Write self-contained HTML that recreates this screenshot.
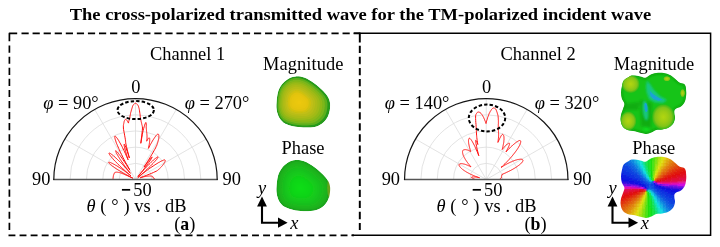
<!DOCTYPE html><html><head><meta charset="utf-8"><title>Figure</title><style>html,body{margin:0;padding:0;background:#fff}svg{display:block}text{font-family:"Liberation Serif",serif;font-size:18.4px;fill:#000}</style></head><body><svg width="720" height="247" viewBox="0 0 720 247"><defs><radialGradient id="hy"><stop offset="0" stop-color="#b2d610"/><stop offset="0.4" stop-color="#9ccc14"/><stop offset="0.7" stop-color="#80c418"/><stop offset="0.88" stop-color="#50bc18" stop-opacity="0.8"/><stop offset="1" stop-color="#20b818" stop-opacity="0"/></radialGradient><radialGradient id="hb"><stop offset="0" stop-color="#1498e0"/><stop offset="0.45" stop-color="#14b8b0"/><stop offset="1" stop-color="#14c060" stop-opacity="0"/></radialGradient><clipPath id="cb1"><path d="M295.50 76.40C298.21 76.18 301.12 76.46 304.25 77.60C307.38 78.74 311.12 81.06 314.25 83.25C317.38 85.44 320.71 88.46 323.00 90.75C325.29 93.04 326.82 94.88 328.00 97.00C329.18 99.12 329.89 100.88 330.10 103.50C330.31 106.12 330.02 109.96 329.25 112.75C328.48 115.54 327.38 118.06 325.50 120.25C323.62 122.44 320.92 124.69 318.00 125.90C315.08 127.11 311.75 127.36 308.00 127.50C304.25 127.64 299.35 127.43 295.50 126.75C291.65 126.07 287.61 124.90 284.90 123.40C282.19 121.90 280.61 119.94 279.25 117.75C277.89 115.56 277.21 112.72 276.75 110.25C276.29 107.78 276.29 105.94 276.50 102.90C276.71 99.86 277.12 95.07 278.00 92.00C278.88 88.93 280.08 86.68 281.75 84.50C283.42 82.32 285.71 80.25 288.00 78.90C290.29 77.55 292.79 76.62 295.50 76.40Z"/></clipPath><clipPath id="cb1p"><path d="M295.50 76.40C298.21 76.18 301.12 76.46 304.25 77.60C307.38 78.74 311.12 81.06 314.25 83.25C317.38 85.44 320.71 88.46 323.00 90.75C325.29 93.04 326.82 94.88 328.00 97.00C329.18 99.12 329.89 100.88 330.10 103.50C330.31 106.12 330.02 109.96 329.25 112.75C328.48 115.54 327.38 118.06 325.50 120.25C323.62 122.44 320.92 124.69 318.00 125.90C315.08 127.11 311.75 127.36 308.00 127.50C304.25 127.64 299.35 127.43 295.50 126.75C291.65 126.07 287.61 124.90 284.90 123.40C282.19 121.90 280.61 119.94 279.25 117.75C277.89 115.56 277.21 112.72 276.75 110.25C276.29 107.78 276.29 105.94 276.50 102.90C276.71 99.86 277.12 95.07 278.00 92.00C278.88 88.93 280.08 86.68 281.75 84.50C283.42 82.32 285.71 80.25 288.00 78.90C290.29 77.55 292.79 76.62 295.50 76.40Z" transform="translate(0,83.7)"/></clipPath><clipPath id="cb2p"><path d="M633.10 75.60C634.98 75.53 637.92 76.14 640.00 76.50C642.08 76.86 643.93 78.00 645.60 77.75C647.27 77.50 648.23 75.78 650.00 75.00C651.77 74.22 653.96 73.42 656.25 73.10C658.54 72.78 661.46 72.78 663.75 73.10C666.04 73.42 668.12 74.06 670.00 75.00C671.88 75.94 673.43 77.50 675.00 78.75C676.57 80.00 677.94 81.67 679.40 82.50C680.86 83.33 682.72 83.12 683.75 83.75C684.78 84.38 685.19 85.00 685.60 86.25C686.01 87.50 686.10 89.79 686.20 91.25C686.30 92.71 686.40 93.33 686.20 95.00C686.00 96.67 685.83 99.38 685.00 101.25C684.17 103.12 682.92 104.89 681.25 106.25C679.58 107.61 676.14 108.15 675.00 109.40C673.86 110.65 674.40 112.32 674.40 113.75C674.40 115.18 675.22 116.33 675.00 118.00C674.78 119.67 674.14 122.17 673.10 123.75C672.06 125.33 670.52 126.56 668.75 127.50C666.98 128.44 664.58 128.98 662.50 129.40C660.42 129.82 658.12 129.48 656.25 130.00C654.38 130.52 652.92 131.83 651.25 132.50C649.58 133.17 647.92 133.90 646.25 134.00C644.58 134.10 643.12 133.56 641.25 133.10C639.38 132.64 637.29 131.77 635.00 131.25C632.71 130.73 629.58 130.83 627.50 130.00C625.42 129.17 623.65 127.92 622.50 126.25C621.35 124.58 620.81 122.08 620.60 120.00C620.39 117.92 620.83 115.62 621.25 113.75C621.67 111.88 622.58 110.42 623.10 108.75C623.62 107.08 624.60 105.42 624.40 103.75C624.20 102.08 622.47 100.62 621.90 98.75C621.33 96.88 621.00 94.58 621.00 92.50C621.00 90.42 621.44 88.23 621.90 86.25C622.36 84.27 622.61 82.16 623.75 80.60C624.89 79.04 627.19 77.73 628.75 76.90C630.31 76.07 631.23 75.67 633.10 75.60Z" transform="translate(0,84.0)"/></clipPath><radialGradient id="hg"><stop offset="0" stop-color="#10dc20"/><stop offset="1" stop-color="#10dc20" stop-opacity="0"/></radialGradient><filter id="bl2" x="-20%" y="-20%" width="140%" height="140%"><feGaussianBlur stdDeviation="1.2"/></filter><filter id="bl3" x="-20%" y="-20%" width="140%" height="140%"><feGaussianBlur stdDeviation="0.7"/></filter><clipPath id="cb2"><path d="M633.10 75.60C634.98 75.53 637.92 76.14 640.00 76.50C642.08 76.86 643.93 78.00 645.60 77.75C647.27 77.50 648.23 75.78 650.00 75.00C651.77 74.22 653.96 73.42 656.25 73.10C658.54 72.78 661.46 72.78 663.75 73.10C666.04 73.42 668.12 74.06 670.00 75.00C671.88 75.94 673.43 77.50 675.00 78.75C676.57 80.00 677.94 81.67 679.40 82.50C680.86 83.33 682.72 83.12 683.75 83.75C684.78 84.38 685.19 85.00 685.60 86.25C686.01 87.50 686.10 89.79 686.20 91.25C686.30 92.71 686.40 93.33 686.20 95.00C686.00 96.67 685.83 99.38 685.00 101.25C684.17 103.12 682.92 104.89 681.25 106.25C679.58 107.61 676.14 108.15 675.00 109.40C673.86 110.65 674.40 112.32 674.40 113.75C674.40 115.18 675.22 116.33 675.00 118.00C674.78 119.67 674.14 122.17 673.10 123.75C672.06 125.33 670.52 126.56 668.75 127.50C666.98 128.44 664.58 128.98 662.50 129.40C660.42 129.82 658.12 129.48 656.25 130.00C654.38 130.52 652.92 131.83 651.25 132.50C649.58 133.17 647.92 133.90 646.25 134.00C644.58 134.10 643.12 133.56 641.25 133.10C639.38 132.64 637.29 131.77 635.00 131.25C632.71 130.73 629.58 130.83 627.50 130.00C625.42 129.17 623.65 127.92 622.50 126.25C621.35 124.58 620.81 122.08 620.60 120.00C620.39 117.92 620.83 115.62 621.25 113.75C621.67 111.88 622.58 110.42 623.10 108.75C623.62 107.08 624.60 105.42 624.40 103.75C624.20 102.08 622.47 100.62 621.90 98.75C621.33 96.88 621.00 94.58 621.00 92.50C621.00 90.42 621.44 88.23 621.90 86.25C622.36 84.27 622.61 82.16 623.75 80.60C624.89 79.04 627.19 77.73 628.75 76.90C630.31 76.07 631.23 75.67 633.10 75.60Z"/></clipPath><filter id="bl" x="-20%" y="-20%" width="140%" height="140%"><feGaussianBlur stdDeviation="0.6"/></filter></defs><rect width="720" height="247" fill="#fff"/><text transform="translate(69.7 19.8) scale(1.129 1)" font-weight="bold" style="font-size:16.4px">The cross-polarized transmitted wave for the TM-polarized incident wave</text><g fill="none" stroke="#000" stroke-width="1.7"><path d="M353.8 33.3H710.6V235.3H351.6" stroke-width="1.5"/><path d="M9.4 41.3V33.4H17.2" stroke-linejoin="round"/><path d="M21.5 33.4H359.8" stroke-dasharray="7.2 3.87"/><path d="M9.4 45.6V230" stroke-dasharray="7.2 3.87"/><path d="M8.5 235.4H354" stroke-dasharray="6.9 4.17"/><path d="M359.8 32.6V42.5" stroke-width="1.95"/><path d="M359.8 45.8V230.1" stroke-dasharray="7.3 3.77" stroke-width="1.95"/></g><g fill="none" stroke="#dadada" stroke-width="0.75"><path d="M119.16 179.5A16.34 16.18 0 0 1 151.84 179.5"/><path d="M102.82 179.5A32.68 32.36 0 0 1 168.18 179.5"/><path d="M86.48 179.5A49.02 48.54 0 0 1 184.52 179.5"/><path d="M70.14 179.5A65.36 64.72 0 0 1 200.86 179.5"/><path d="M135.5 179.5L64.75 139.05"/><path d="M135.5 179.5L94.65 109.44"/><path d="M135.5 179.5L135.50 98.60"/><path d="M135.5 179.5L176.35 109.44"/><path d="M135.5 179.5L206.25 139.05"/></g><path d="M113.0 179.5L113.0 179.4L113.0 179.3L113.0 179.3L113.0 179.2L113.0 179.1L113.0 179.0L113.0 179.0L113.0 178.9L113.0 178.8L113.0 178.7L113.0 178.6L113.0 178.6L113.1 178.5L113.1 178.4L113.1 178.3L113.1 178.2L113.1 178.2L113.1 178.1L113.1 178.0L113.1 177.9L113.1 177.9L113.1 177.8L113.1 177.7L113.1 177.6L113.1 177.5L113.2 177.5L113.2 177.4L113.2 177.3L113.2 177.2L113.2 177.2L113.2 177.1L113.2 177.0L113.2 176.9L113.2 176.8L113.3 176.8L113.3 176.7L113.3 176.6L113.3 176.5L113.3 176.5L113.3 176.4L113.3 176.3L113.3 176.2L113.3 176.1L113.4 176.1L113.4 176.0L113.4 175.9L113.4 175.8L113.4 175.8L113.4 175.7L113.4 175.6L113.5 175.5L113.5 175.5L113.5 175.4L113.5 175.3L113.5 175.2L113.5 175.2L113.6 175.1L113.6 175.0L113.6 174.9L113.6 174.9L113.7 174.8L113.7 174.7L113.7 174.6L113.7 174.6L113.8 174.5L113.8 174.4L113.8 174.3L113.8 174.3L113.9 174.2L113.9 174.1L113.9 174.0L114.0 174.0L114.0 173.9L114.0 173.8L114.1 173.8L114.1 173.7L114.2 173.6L114.2 173.6L114.2 173.5L114.3 173.4L114.3 173.3L114.4 173.3L114.4 173.2L114.5 173.1L114.5 173.1L114.5 173.0L114.6 172.9L114.6 172.9L114.7 172.8L114.7 172.8L114.8 172.7L114.8 172.6L114.9 172.6L114.9 172.5L115.0 172.4L115.0 172.4L115.1 172.3L115.2 172.3L115.3 172.2L115.5 172.2L115.6 172.2L115.8 172.2L116.0 172.1L116.2 172.1L116.4 172.1L116.6 172.2L116.9 172.2L117.1 172.2L117.4 172.2L117.7 172.3L117.9 172.3L118.3 172.4L118.6 172.4L118.9 172.5L119.2 172.6L119.6 172.6L119.9 172.7L120.3 172.8L120.9 173.0L121.6 173.3L122.4 173.6L123.3 173.9L124.4 174.4L125.5 174.9L126.8 175.4L128.2 176.0L129.6 176.7L131.2 177.4L132.8 178.2L131.6 177.6L130.3 176.9L129.1 176.3L127.9 175.7L126.8 175.0L125.6 174.4L124.5 173.8L123.4 173.2L122.3 172.5L121.3 171.9L120.3 171.3L119.3 170.7L118.3 170.1L117.4 169.5L116.6 169.0L115.7 168.4L114.9 167.9L114.2 167.4L113.5 166.8L112.8 166.4L112.2 165.9L111.6 165.4L111.1 165.0L110.6 164.6L110.2 164.2L109.8 163.9L109.5 163.6L109.2 163.3L109.0 163.0L108.8 162.8L108.7 162.6L108.7 162.4L108.7 162.3L108.8 162.2L109.0 162.2L109.2 162.2L109.5 162.3L109.8 162.3L110.2 162.5L110.6 162.6L111.1 162.8L111.6 163.1L112.2 163.3L112.8 163.6L113.4 164.0L114.1 164.3L114.8 164.7L115.6 165.2L116.4 165.6L117.2 166.1L118.1 166.7L118.9 167.2L119.8 167.8L120.8 168.4L121.7 169.0L122.7 169.7L123.7 170.4L124.7 171.1L125.7 171.8L126.7 172.6L127.7 173.3L128.7 174.1L129.8 174.9L130.8 175.7L129.6 174.7L128.3 173.6L127.1 172.5L125.9 171.5L124.7 170.4L123.5 169.4L122.4 168.3L121.3 167.3L120.2 166.3L119.2 165.3L118.2 164.4L117.3 163.4L116.4 162.5L115.5 161.6L114.7 160.8L113.9 160.0L113.2 159.2L112.6 158.4L111.9 157.7L111.4 157.0L110.9 156.4L110.4 155.8L110.0 155.2L109.7 154.8L109.4 154.3L109.2 154.0L109.1 153.6L109.0 153.4L109.0 153.2L109.1 153.1L109.2 153.0L109.4 153.0L109.7 153.1L110.0 153.3L110.5 153.6L110.9 153.9L111.5 154.3L112.1 154.7L112.7 155.2L113.5 155.8L114.2 156.5L115.0 157.2L115.8 157.9L116.7 158.8L117.6 159.6L118.6 160.6L119.6 161.5L120.6 162.5L121.6 163.6L122.7 164.7L123.7 165.8L124.8 167.0L125.9 168.2L127.0 169.5L128.2 170.7L129.3 172.0L130.4 173.3L129.3 172.0L128.3 170.6L127.3 169.3L126.3 168.0L125.3 166.7L124.4 165.4L123.5 164.2L122.7 163.0L121.8 161.8L121.1 160.7L120.3 159.6L119.6 158.5L119.0 157.5L118.4 156.6L117.9 155.7L117.4 154.8L117.0 154.1L116.6 153.4L116.3 152.7L116.0 152.2L115.8 151.7L115.7 151.3L115.6 151.0L115.6 150.8L115.7 150.7L115.8 150.7L116.1 150.9L116.5 151.3L117.1 151.8L117.7 152.5L118.4 153.4L119.1 154.4L120.0 155.5L120.9 156.8L121.9 158.1L122.9 159.6L124.0 161.2L125.1 162.8L126.3 164.5L127.5 166.3L128.6 168.2L129.8 170.1L128.8 168.2L127.8 166.4L126.8 164.6L125.8 162.9L124.9 161.1L124.0 159.4L123.1 157.7L122.3 156.0L121.5 154.4L120.7 152.8L120.0 151.3L119.3 149.8L118.7 148.4L118.1 147.0L117.5 145.7L117.0 144.4L116.5 143.3L116.1 142.2L115.8 141.1L115.5 140.2L115.2 139.3L115.0 138.6L114.9 137.9L114.8 137.3L114.7 136.9L114.7 136.5L114.8 136.3L114.9 136.1L115.1 136.1L115.3 136.2L115.6 136.4L115.9 136.8L116.3 137.2L116.7 137.7L117.2 138.3L117.7 139.0L118.2 139.9L118.8 140.7L119.3 141.7L119.9 142.8L120.6 143.9L121.2 145.1L121.9 146.3L122.5 147.6L123.2 149.0L123.9 150.4L124.6 151.9L125.3 153.4L126.0 155.0L126.7 156.6L127.4 158.2L128.1 159.8L127.6 158.1L127.0 156.4L126.5 154.7L126.1 153.1L125.6 151.6L125.3 150.2L124.9 148.9L124.6 147.8L124.4 146.7L124.2 145.8L124.1 145.1L124.1 144.6L124.1 144.2L124.2 144.1L124.4 144.3L124.7 144.9L125.2 145.9L125.8 147.3L126.4 149.0L127.1 151.0L127.8 153.2L128.6 155.6L129.4 158.0L127.7 151.5L126.5 146.7L125.9 144.0L125.7 142.6L125.6 141.8L125.6 140.9L125.4 139.8L125.1 137.9L124.6 135.2L124.1 132.3L123.6 129.7L123.4 128.0L123.4 127.0L123.4 126.1L123.4 125.4L123.5 124.8L123.6 124.3L123.7 123.8L123.8 123.3L123.9 122.8L124.0 122.3L124.1 121.9L124.2 121.4L124.4 121.0L124.5 120.6L124.7 120.3L124.8 120.0L125.0 119.7L125.2 119.5L125.4 119.4L125.6 119.3L125.8 119.3L126.0 119.4L126.3 119.6L126.6 119.9L126.8 120.2L127.1 120.6L127.4 121.0L127.6 121.5L127.9 122.0L128.2 122.6L128.5 123.1L128.6 122.2L128.7 121.5L128.9 120.9L129.1 120.3L129.3 119.8L129.4 119.2L129.6 118.5L129.8 117.7L129.9 116.9L130.1 116.0L130.2 115.2L130.4 114.3L130.5 113.5L130.7 112.6L131.0 111.7L131.2 110.9L131.4 110.1L131.7 109.3L131.9 108.5L132.2 107.7L132.4 106.8L132.7 106.1L133.0 105.4L133.3 104.9L133.6 104.6L133.8 104.3L134.1 104.1L134.4 103.8L134.7 103.6L134.9 103.4L135.2 103.3L135.5 103.3L135.8 103.3L136.1 103.4L136.3 103.6L136.6 103.8L136.9 104.1L137.2 104.3L137.4 104.6L137.7 104.9L138.0 105.4L138.3 106.0L138.6 106.7L138.8 107.6L139.1 108.5L139.3 109.5L139.5 110.8L139.7 112.1L139.9 113.4L140.1 114.8L140.2 116.2L140.4 117.4L140.5 118.5L140.7 119.3L140.8 120.0L141.0 120.6L141.1 121.3L141.3 121.9L141.4 122.4L141.5 123.0L141.7 123.6L141.8 124.2L141.9 124.8L142.1 125.3L142.2 125.8L142.3 126.3L142.4 127.0L142.5 128.0L142.3 130.6L141.7 135.9L140.8 143.3L142.3 134.7L143.2 130.1L143.7 128.4L144.2 126.7L144.6 125.3L145.0 124.1L145.4 123.2L145.7 122.6L146.0 122.5L146.1 122.7L146.2 123.3L146.3 124.2L146.3 125.2L146.2 126.2L146.2 127.2L146.3 128.0L146.3 128.7L146.4 129.3L146.4 129.9L146.5 130.5L146.5 131.0L146.6 131.5L146.7 132.0L146.7 132.5L146.8 133.0L146.8 133.5L146.9 133.9L146.9 134.4L147.0 135.0L147.0 135.5L147.0 136.1L147.0 136.7L147.0 137.3L147.0 138.0L147.0 138.7L146.9 139.5L146.8 140.3L146.7 141.2L147.0 140.6L147.4 140.0L147.7 139.4L148.0 138.9L148.3 138.5L148.5 138.2L148.8 137.9L149.0 137.8L149.1 137.8L149.3 137.9L149.4 138.0L149.5 138.2L149.6 138.4L149.7 138.7L149.7 139.1L149.7 139.5L149.7 139.9L149.7 140.4L149.7 140.9L149.6 141.5L149.6 142.1L149.5 142.7L149.4 143.3L149.3 144.0L149.2 144.7L149.0 145.4L148.9 146.1L148.7 146.9L148.6 147.6L148.4 148.4L149.1 147.1L149.7 145.8L150.4 144.6L151.0 143.5L151.7 142.3L152.3 141.2L152.9 140.2L153.5 139.3L154.1 138.4L154.7 137.5L155.2 136.8L155.7 136.1L156.2 135.5L156.6 135.0L157.0 134.6L157.3 134.3L157.6 134.1L157.9 134.0L158.1 134.0L158.2 134.1L158.4 134.2L158.5 134.4L158.6 134.6L158.7 134.8L158.7 135.0L158.8 135.3L158.8 135.6L158.9 135.9L158.9 136.3L158.9 136.7L158.8 137.1L158.8 137.5L158.7 137.9L158.7 138.4L158.6 138.8L158.5 139.3L158.4 139.8L158.3 140.4L158.1 140.9L158.0 141.5L157.8 142.0L157.7 142.6L157.5 143.2L157.3 143.8L157.1 144.4L156.9 145.0L156.6 145.8L156.1 146.7L155.6 147.9L154.8 149.3L153.9 150.9L152.9 152.7L151.7 154.7L150.5 156.9L149.0 159.2L147.5 161.7L145.8 164.3L144.0 167.1L145.1 165.6L146.1 164.2L147.2 162.8L148.1 161.5L149.0 160.4L149.9 159.4L150.6 158.5L151.2 157.8L151.7 157.3L152.0 157.1L152.2 157.0L152.1 157.2L152.0 157.6L151.6 158.2L151.1 159.0L150.5 160.0L149.7 161.1L148.8 162.4L147.8 163.8L146.6 165.4L145.4 167.0L144.1 168.8L142.7 170.6L141.2 172.5L139.6 174.4L138.0 176.4L139.1 175.2L140.2 173.9L141.2 172.7L142.3 171.5L143.3 170.4L144.3 169.2L145.4 168.1L146.3 167.1L147.3 166.1L148.3 165.1L149.2 164.2L150.1 163.3L150.9 162.4L151.8 161.6L152.6 160.9L153.3 160.2L154.0 159.6L154.7 159.0L155.3 158.5L155.9 158.1L156.4 157.7L156.8 157.4L157.2 157.1L157.6 157.0L157.8 156.9L158.0 156.8L158.1 156.9L158.2 157.0L158.1 157.2L158.0 157.5L157.7 157.9L157.4 158.3L157.0 158.9L156.6 159.5L156.0 160.1L155.4 160.8L154.7 161.6L153.9 162.4L153.1 163.3L152.2 164.2L151.3 165.2L150.3 166.2L149.2 167.2L148.1 168.3L147.0 169.4L145.8 170.5L144.5 171.7L143.2 172.8L141.9 174.0L140.6 175.2L139.2 176.4L137.8 177.6L139.0 176.5L140.3 175.5L141.5 174.6L142.7 173.6L144.0 172.6L145.2 171.7L146.4 170.8L147.5 170.0L148.7 169.1L149.8 168.3L150.9 167.5L152.0 166.8L153.1 166.1L154.1 165.4L155.1 164.7L156.1 164.1L157.0 163.6L157.9 163.0L158.7 162.5L159.6 162.1L160.3 161.6L161.0 161.3L161.7 160.9L162.3 160.6L162.9 160.4L163.4 160.2L163.8 160.0L164.2 159.9L164.5 159.9L164.7 159.8L164.9 159.9L165.0 160.0L165.1 160.1L165.1 160.2L165.2 160.3L165.2 160.4L165.2 160.6L165.2 160.7L165.2 160.9L165.2 161.0L165.1 161.2L165.1 161.4L165.0 161.6L165.0 161.7L164.9 161.9L164.8 162.1L164.7 162.3L164.6 162.5L164.5 162.7L164.4 162.9L164.3 163.1L164.1 163.3L164.0 163.5L163.8 163.8L163.7 164.0L163.5 164.2L163.4 164.4L163.2 164.6L163.0 164.8L162.8 165.1L162.7 165.3L162.5 165.5L162.3 165.7L162.1 165.9L161.9 166.1L161.7 166.4L161.5 166.6L161.3 166.8L161.1 167.0L160.9 167.2L160.7 167.4L160.5 167.6L160.3 167.8L160.1 168.0L160.0 168.2L159.8 168.4L159.6 168.6L159.4 168.8L159.2 168.9L159.1 169.1L158.9 169.3L158.7 169.4L158.6 169.6L158.4 169.8L158.1 170.0L157.9 170.2L157.6 170.4L157.2 170.6L156.8 170.9L156.1 171.3L154.9 171.8L153.4 172.5L151.4 173.4L149.1 174.3L146.4 175.4L143.4 176.5L140.2 177.8L140.5 177.7L140.9 177.6L141.2 177.5L141.5 177.4L141.9 177.3L142.2 177.2L142.6 177.1L142.9 177.0L143.2 176.9L143.5 176.9L143.9 176.8L144.2 176.7L144.5 176.6L144.8 176.6L145.1 176.5L145.4 176.5L145.7 176.4L146.0 176.4L146.3 176.3L146.6 176.3L146.9 176.2L147.2 176.2L147.5 176.2L147.8 176.1L148.0 176.1L148.3 176.1L148.6 176.1L148.8 176.0L149.1 176.0L149.3 176.0L149.5 176.0L149.8 176.0L150.0 176.0L150.2 176.0L150.4 176.0L150.6 176.0L150.8 176.0L151.0 176.0L151.2 176.1L151.3 176.1L151.5 176.1L151.6 176.1L151.8 176.2L151.9 176.2L152.0 176.2L152.2 176.3L152.3 176.3L152.4 176.3L152.5 176.4L152.5 176.4L152.6 176.5L152.7 176.5L152.7 176.6L152.7 176.6L152.8 176.7L152.8 176.8L152.8 176.8L152.8 176.9L152.8 176.9L152.9 177.0L152.9 177.1L152.9 177.1L152.9 177.2L153.0 177.2L153.0 177.3L153.0 177.3L153.1 177.4L153.1 177.5L153.2 177.5L153.2 177.6L153.3 177.6L153.3 177.7L153.4 177.7L153.4 177.8L153.5 177.9L153.5 177.9L153.6 178.0L153.7 178.0L153.7 178.1L153.8 178.2L153.8 178.2L153.9 178.3L154.0 178.3L154.0 178.4L154.1 178.5L154.2 178.5L154.2 178.6L154.3 178.6L154.3 178.7L154.4 178.8L154.5 178.8L154.5 178.9L154.6 179.0L154.6 179.0L154.7 179.1L154.8 179.2L154.8 179.2L154.9 179.3L154.9 179.4L155.0 179.4L155.0 179.5" fill="none" stroke="#ff1010" stroke-width="1" stroke-linejoin="round"/><path d="M53.199999999999996 179.5H217.79999999999998" fill="none" stroke="#555" stroke-width="1.7"/><path d="M53.8 180.0V179.5A81.7 80.9 0 0 1 217.2 179.5V180.0" fill="none" stroke="#151515" stroke-width="1.2"/><ellipse cx="135.7" cy="110.1" rx="18.2" ry="9.0" fill="none" stroke="#000" stroke-width="2" stroke-dasharray="3.4 2.1"/><g fill="none" stroke="#dadada" stroke-width="0.75"><path d="M469.91 179.5A16.34 16.18 0 0 1 502.59 179.5"/><path d="M453.57 179.5A32.68 32.36 0 0 1 518.93 179.5"/><path d="M437.23 179.5A49.02 48.54 0 0 1 535.27 179.5"/><path d="M420.89 179.5A65.36 64.72 0 0 1 551.61 179.5"/><path d="M486.25 179.5L415.50 139.05"/><path d="M486.25 179.5L445.40 109.44"/><path d="M486.25 179.5L486.25 98.60"/><path d="M486.25 179.5L527.10 109.44"/><path d="M486.25 179.5L557.00 139.05"/></g><path d="M475.2 179.5L475.2 179.5L475.1 179.4L475.0 179.4L474.9 179.3L474.8 179.3L474.7 179.3L474.6 179.2L474.5 179.2L474.4 179.1L474.3 179.1L474.2 179.0L474.0 179.0L473.9 178.9L473.8 178.9L473.7 178.8L473.6 178.8L473.5 178.7L473.4 178.7L473.3 178.6L473.2 178.6L473.1 178.5L473.0 178.5L472.9 178.4L472.8 178.4L472.7 178.3L472.6 178.3L472.5 178.2L472.4 178.1L472.3 178.1L472.2 178.0L472.2 178.0L472.1 177.9L472.0 177.9L471.9 177.8L471.9 177.7L471.8 177.7L471.8 177.6L471.7 177.6L471.7 177.5L471.7 177.5L471.7 177.4L471.6 177.3L471.6 177.3L471.6 177.2L471.6 177.2L471.7 177.1L471.7 177.1L471.8 177.0L471.8 177.0L472.0 177.0L472.1 177.0L472.2 176.9L472.4 176.9L472.6 176.9L472.8 176.9L473.0 176.9L473.3 176.9L473.5 176.9L473.8 176.9L474.1 176.9L474.4 176.9L474.7 177.0L475.0 177.0L475.3 177.0L475.7 177.1L476.0 177.1L476.4 177.1L476.7 177.2L477.1 177.3L477.5 177.3L477.9 177.4L478.3 177.5L478.7 177.5L479.1 177.6L479.5 177.7L479.0 177.5L478.4 177.4L477.9 177.2L477.4 177.0L476.9 176.8L476.4 176.6L475.9 176.5L475.4 176.3L474.9 176.1L474.4 175.9L473.9 175.7L473.5 175.5L473.0 175.3L472.5 175.1L472.1 174.9L471.6 174.7L471.2 174.5L470.7 174.3L470.3 174.1L469.8 173.8L469.4 173.6L469.0 173.4L468.6 173.2L468.2 173.0L467.8 172.8L467.4 172.5L467.0 172.3L466.6 172.1L466.2 171.9L465.9 171.7L465.5 171.4L465.2 171.2L464.8 171.0L464.5 170.8L464.2 170.6L463.9 170.3L463.6 170.1L463.3 169.9L463.0 169.7L462.7 169.5L462.4 169.3L462.2 169.1L461.9 168.8L461.7 168.6L461.5 168.4L461.2 168.2L461.0 168.0L460.8 167.8L460.6 167.6L460.5 167.4L460.3 167.2L460.1 167.1L460.0 166.9L459.8 166.7L459.7 166.5L459.6 166.3L459.5 166.2L459.4 166.0L459.3 165.8L459.2 165.7L459.2 165.5L459.1 165.4L459.1 165.2L459.1 165.1L459.1 165.0L459.0 164.9L459.1 164.7L459.1 164.6L459.1 164.5L459.2 164.4L459.2 164.3L459.3 164.2L459.4 164.2L459.5 164.1L459.6 164.0L459.7 164.0L459.8 163.9L459.9 163.8L460.0 163.8L460.2 163.8L460.3 163.7L460.5 163.7L460.7 163.7L460.8 163.7L461.0 163.7L461.2 163.6L461.4 163.6L461.6 163.7L461.8 163.7L462.0 163.7L462.2 163.7L462.5 163.7L462.7 163.8L462.9 163.8L463.2 163.9L463.4 163.9L463.7 164.0L463.9 164.0L464.2 164.1L464.5 164.2L464.7 164.2L465.0 164.3L465.3 164.4L465.6 164.5L465.9 164.6L466.1 164.7L466.4 164.8L466.7 164.9L467.0 165.0L467.3 165.1L467.6 165.3L467.9 165.4L468.2 165.5L468.5 165.7L468.8 165.8L469.1 165.9L469.4 166.1L469.8 166.2L470.1 166.4L470.4 166.6L470.7 166.7L471.0 166.9L470.7 166.5L470.4 166.2L470.1 165.8L469.8 165.5L469.5 165.1L469.2 164.8L468.9 164.4L468.6 164.0L468.3 163.7L468.1 163.3L467.8 163.0L467.5 162.6L467.3 162.3L467.0 161.9L466.8 161.6L466.5 161.2L466.3 160.9L466.1 160.5L465.8 160.2L465.6 159.8L465.4 159.5L465.2 159.2L465.0 158.8L464.8 158.5L464.7 158.2L464.5 157.8L464.3 157.5L464.1 157.2L464.0 156.9L463.8 156.6L463.7 156.3L463.6 156.0L463.4 155.7L463.3 155.4L463.2 155.1L463.1 154.8L463.0 154.5L462.9 154.3L462.9 154.0L462.8 153.7L462.7 153.5L462.7 153.3L462.6 153.0L462.6 152.8L462.6 152.6L462.5 152.3L462.5 152.1L462.5 151.9L462.5 151.7L462.5 151.6L462.6 151.4L462.6 151.2L462.6 151.1L462.7 150.9L462.7 150.8L462.8 150.6L462.9 150.5L462.9 150.4L463.0 150.3L463.1 150.2L463.2 150.1L463.3 150.1L463.5 150.0L463.6 149.9L463.7 149.9L463.8 149.8L464.0 149.8L464.1 149.8L464.2 149.7L464.4 149.7L464.5 149.7L464.7 149.7L464.8 149.6L465.0 149.6L465.1 149.6L465.3 149.6L465.4 149.6L465.6 149.6L465.8 149.7L465.9 149.7L466.1 149.7L466.3 149.7L466.5 149.8L466.6 149.8L466.8 149.9L467.0 149.9L467.2 149.9L467.4 150.0L467.5 150.1L467.7 150.1L467.9 150.2L468.1 150.3L468.3 150.3L468.5 150.4L468.7 150.5L468.8 150.6L469.0 150.6L469.2 150.7L469.4 150.8L469.6 150.9L469.8 151.0L470.0 151.1L470.2 151.2L470.4 151.3L470.5 151.4L470.7 151.5L470.5 150.9L470.4 150.4L470.2 149.8L470.0 149.2L469.9 148.7L469.7 148.1L469.6 147.6L469.4 147.1L469.3 146.5L469.2 146.0L469.1 145.5L469.0 145.0L468.9 144.5L468.8 144.0L468.7 143.6L468.7 143.1L468.6 142.7L468.6 142.3L468.5 141.9L468.5 141.5L468.5 141.1L468.5 140.7L468.5 140.4L468.5 140.1L468.6 139.8L468.6 139.5L468.7 139.3L468.7 139.0L468.8 138.8L468.9 138.7L469.0 138.5L469.1 138.4L469.3 138.3L469.4 138.2L469.6 138.2L469.8 138.3L470.0 138.4L470.2 138.7L470.5 139.0L470.8 139.4L471.2 139.8L471.5 140.3L471.9 140.9L472.3 141.6L472.7 142.3L473.1 143.1L473.6 143.9L474.0 144.8L474.5 145.7L475.0 146.7L475.4 147.7L475.9 148.8L476.4 149.9L476.9 151.0L477.4 152.1L477.8 153.3L478.3 154.5L478.8 155.7L478.3 153.7L477.8 151.8L477.3 149.9L476.9 148.2L476.6 146.5L476.3 145.0L476.0 143.7L475.8 142.5L475.7 141.6L475.7 140.9L475.7 140.4L475.8 140.3L476.0 140.4L476.2 140.7L476.5 141.2L476.8 141.8L477.1 142.6L477.5 143.5L477.8 144.5L477.5 142.5L477.2 140.7L477.0 139.1L476.8 137.6L476.7 136.3L476.6 135.2L476.5 134.0L476.5 132.9L476.4 131.8L476.4 130.6L476.3 129.3L476.2 128.0L476.1 126.3L476.0 124.4L475.8 122.4L475.7 120.4L475.6 118.6L475.6 117.0L475.6 115.8L475.8 115.0L475.9 114.6L476.1 114.2L476.3 113.9L476.5 113.5L476.7 113.2L476.9 112.9L477.1 112.7L477.3 112.4L477.5 112.3L477.8 112.1L478.0 112.0L478.2 112.0L478.5 112.0L478.7 112.0L479.0 112.0L479.2 112.1L479.5 112.2L479.7 112.4L480.0 112.5L480.3 112.7L480.5 113.0L480.8 113.2L481.0 113.5L481.3 113.8L481.5 114.1L481.8 114.5L482.1 114.8L482.3 115.2L482.6 115.6L482.8 116.1L483.1 116.5L483.3 117.0L483.6 117.4L483.8 117.9L484.0 118.4L484.3 119.0L484.5 119.5L484.7 120.0L484.9 120.6L485.2 121.2L485.4 121.7L485.6 122.3L485.8 122.9L486.0 123.5L486.2 122.7L486.4 121.9L486.6 121.1L486.8 120.4L487.1 119.6L487.3 118.9L487.5 118.1L487.7 117.4L488.0 116.7L488.2 116.0L488.5 115.4L488.7 114.7L489.0 114.1L489.2 113.5L489.5 112.9L489.8 112.4L490.0 111.9L490.3 111.4L490.6 110.9L490.9 110.5L491.1 110.1L491.4 109.7L491.7 109.3L492.0 109.0L492.2 108.8L492.5 108.5L492.8 108.3L493.1 108.2L493.3 108.0L493.6 108.0L493.8 107.9L494.1 107.9L494.4 108.0L494.6 108.1L494.8 108.3L495.1 108.5L495.3 108.7L495.5 109.0L495.8 109.3L496.0 109.7L496.2 110.1L496.4 110.5L496.5 111.0L496.7 111.4L496.9 111.9L497.1 112.4L497.2 112.9L497.4 113.5L497.5 114.0L497.7 114.5L497.8 115.0L498.0 115.6L498.1 116.3L498.2 117.0L498.2 117.8L498.3 118.7L498.3 119.6L498.4 120.5L498.4 121.5L498.4 122.5L498.4 123.5L498.3 124.5L498.3 125.4L498.3 126.3L498.3 127.2L498.3 128.0L498.3 128.8L498.4 129.5L498.4 130.2L498.4 130.8L498.5 131.5L498.5 132.1L498.5 132.6L498.5 133.2L498.6 133.8L498.6 134.4L498.6 135.0L498.6 135.6L498.6 136.3L498.5 137.0L498.5 137.8L498.4 138.5L498.3 139.4L498.2 140.3L498.1 141.3L497.9 142.4L498.4 141.3L498.9 140.2L499.4 139.2L499.8 138.3L500.3 137.4L500.7 136.6L501.1 135.9L501.5 135.3L501.9 134.9L502.1 134.6L502.4 134.4L502.6 134.4L502.7 134.4L502.9 134.5L503.0 134.6L503.1 134.8L503.3 134.9L503.4 135.1L503.5 135.3L503.6 135.5L503.7 135.8L503.7 136.0L503.8 136.3L503.9 136.6L503.9 136.9L503.9 137.2L504.0 137.6L504.0 137.9L504.0 138.3L504.0 138.7L504.0 139.0L504.0 139.5L504.0 139.9L503.9 140.3L503.9 140.7L503.9 141.2L503.8 141.7L503.8 142.1L503.7 142.6L503.6 143.1L503.5 143.6L503.4 144.1L503.3 144.6L503.2 145.1L503.1 145.7L503.0 146.2L502.9 146.7L502.7 147.3L502.6 147.8L502.5 148.4L502.3 148.9L502.2 149.5L502.6 149.0L503.0 148.5L503.4 148.0L503.8 147.6L504.1 147.1L504.5 146.7L504.9 146.3L505.3 145.9L505.7 145.5L506.0 145.2L506.4 144.8L506.7 144.5L507.1 144.3L507.4 144.0L507.7 143.8L508.0 143.6L508.2 143.5L508.5 143.3L508.7 143.3L508.9 143.2L509.1 143.2L509.3 143.2L509.4 143.3L509.5 143.4L509.6 143.6L509.5 143.9L509.5 144.3L509.3 144.8L509.2 145.3L509.0 145.8L508.7 146.5L508.4 147.2L508.1 147.9L507.7 148.6L507.3 149.4L506.9 150.2L506.4 151.1L506.0 151.9L506.7 151.2L507.4 150.4L508.0 149.7L508.7 149.0L509.4 148.3L510.1 147.7L510.7 147.0L511.4 146.4L512.1 145.8L512.7 145.2L513.3 144.7L513.9 144.1L514.5 143.7L515.1 143.2L515.6 142.8L516.2 142.4L516.7 142.0L517.2 141.7L517.6 141.4L518.1 141.1L518.5 140.9L518.8 140.8L519.2 140.6L519.5 140.5L519.8 140.5L520.0 140.5L520.2 140.6L520.4 140.7L520.5 140.8L520.6 141.0L520.7 141.1L520.7 141.4L520.7 141.6L520.7 141.9L520.7 142.2L520.6 142.5L520.5 142.9L520.4 143.2L520.3 143.6L520.1 144.0L520.0 144.5L519.7 144.9L519.5 145.4L519.3 145.9L519.0 146.4L518.7 147.0L518.4 147.5L518.0 148.1L517.7 148.6L517.3 149.2L516.9 149.8L516.4 150.5L516.0 151.1L515.5 151.7L515.0 152.4L514.5 153.0L514.0 153.7L513.4 154.4L512.9 155.1L512.3 155.8L511.7 156.5L511.1 157.2L510.5 157.9L509.8 158.6L509.2 159.4L508.5 160.1L507.8 160.8L507.1 161.6L506.4 162.3L505.6 163.1L504.9 163.8L504.1 164.5L503.4 165.3L502.6 166.0L501.8 166.8L501.0 167.5L501.5 167.2L502.1 166.8L502.6 166.5L503.2 166.1L503.7 165.8L504.3 165.5L504.8 165.1L505.4 164.8L505.9 164.5L506.5 164.2L507.0 163.9L507.5 163.6L508.1 163.4L508.6 163.1L509.1 162.8L509.6 162.6L510.2 162.3L510.7 162.1L511.2 161.9L511.7 161.7L512.2 161.4L512.7 161.2L513.1 161.0L513.6 160.9L514.1 160.7L514.5 160.5L515.0 160.4L515.4 160.2L515.9 160.1L516.3 160.0L516.7 159.8L517.1 159.7L517.5 159.6L517.9 159.5L518.3 159.5L518.6 159.4L519.0 159.3L519.3 159.3L519.6 159.3L520.0 159.2L520.3 159.2L520.5 159.2L520.8 159.2L521.1 159.2L521.3 159.2L521.6 159.3L521.8 159.3L522.0 159.4L522.2 159.4L522.3 159.5L522.5 159.6L522.6 159.7L522.7 159.8L522.8 159.9L522.9 160.0L522.9 160.2L523.0 160.3L523.0 160.5L523.0 160.6L522.9 160.8L522.9 161.0L522.8 161.2L522.7 161.4L522.5 161.6L522.4 161.9L522.2 162.1L522.0 162.4L521.8 162.6L521.5 162.9L521.3 163.2L521.0 163.4L520.7 163.7L520.4 164.0L520.0 164.3L519.7 164.6L519.3 164.9L518.9 165.2L518.5 165.5L518.1 165.9L517.6 166.2L517.2 166.5L516.7 166.8L516.2 167.2L515.7 167.5L515.2 167.8L514.6 168.2L514.1 168.5L513.5 168.8L512.9 169.2L512.3 169.5L511.7 169.8L511.1 170.2L510.5 170.5L509.9 170.8L509.2 171.1L508.5 171.5L507.9 171.8L507.2 172.1L506.5 172.4L505.8 172.8L505.1 173.1L504.4 173.4L503.7 173.7L503.0 174.0L502.2 174.3L502.2 174.4L502.2 174.5L502.1 174.5L502.1 174.6L502.1 174.7L502.0 174.7L502.0 174.8L502.0 174.9L502.0 174.9L501.9 175.0L501.9 175.1L501.9 175.1L501.8 175.2L501.8 175.3L501.8 175.3L501.8 175.4L501.7 175.5L501.7 175.5L501.7 175.6L501.7 175.7L501.6 175.7L501.6 175.8L501.6 175.8L501.6 175.9L501.6 176.0L501.6 176.0L501.5 176.1L501.5 176.1L501.5 176.2L501.5 176.3L501.5 176.3L501.5 176.4L501.5 176.4L501.5 176.5L501.5 176.5L501.5 176.6L501.5 176.6L501.5 176.7L501.5 176.8L501.5 176.8L501.5 176.9L501.5 176.9L501.5 177.0L501.5 177.0L501.5 177.1L501.5 177.1L501.5 177.2L501.5 177.2L501.5 177.3L501.5 177.4L501.4 177.4L501.4 177.5L501.4 177.5L501.4 177.6L501.3 177.6L501.3 177.7L501.3 177.8L501.2 177.8L501.2 177.9L501.2 177.9L501.1 178.0L501.1 178.0L501.0 178.1L501.0 178.2L500.9 178.2L500.9 178.3L500.9 178.3L500.8 178.4L500.8 178.4L500.7 178.5L500.7 178.5L500.6 178.6L500.6 178.6L500.5 178.7L500.5 178.8L500.4 178.8L500.4 178.9L500.3 178.9L500.3 179.0L500.2 179.0L500.2 179.1L500.1 179.1L500.1 179.2L500.0 179.2L500.0 179.3L499.9 179.3L499.9 179.4L499.8 179.4L499.8 179.5L499.8 179.5" fill="none" stroke="#ff1010" stroke-width="1" stroke-linejoin="round"/><path d="M403.95 179.5H568.5500000000001" fill="none" stroke="#555" stroke-width="1.7"/><path d="M404.55 180.0V179.5A81.7 80.9 0 0 1 567.95 179.5V180.0" fill="none" stroke="#151515" stroke-width="1.2"/><ellipse cx="487" cy="118" rx="18.2" ry="13.4" fill="none" stroke="#000" stroke-width="2" stroke-dasharray="3.4 2.1"/><text x="150.1" y="59.7" text-anchor="start" >Channel 1</text><text x="263.1" y="69.8" text-anchor="start" textLength="80.3">Magnitude</text><text x="303" y="154.4" text-anchor="middle" >Phase</text><text x="135.9" y="93.3" text-anchor="middle" >0</text><text x="50.5" y="185" text-anchor="end" >90</text><text x="222.5" y="185" text-anchor="start" >90</text><text transform="translate(120.90 198.1) scale(0.71 1)" font-weight="bold" style="font-size:25px">−</text><text x="133.3" y="196" text-anchor="start" >50</text><text x="86.5" y="212.3" text-anchor="start" textLength="100"><tspan font-style="italic">θ</tspan> ( ° ) vs . dB</text><text x="98.7" y="109" text-anchor="end" ><tspan font-style="italic">φ</tspan> = 90°</text><text x="184.7" y="109" text-anchor="start" ><tspan font-style="italic">φ</tspan> = 270°</text><text x="184.7" y="230.1" text-anchor="middle" >(<tspan font-weight="bold" style="font-size:17.8px">a</tspan>)</text><text x="500.6" y="59.7" text-anchor="start" >Channel 2</text><text x="613.85" y="69.8" text-anchor="start" textLength="80.3">Magnitude</text><text x="653.75" y="154.4" text-anchor="middle" >Phase</text><text x="486.65" y="93.3" text-anchor="middle" >0</text><text x="400.05" y="185" text-anchor="end" >90</text><text x="573.15" y="185" text-anchor="start" >90</text><text transform="translate(471.65 198.1) scale(0.71 1)" font-weight="bold" style="font-size:25px">−</text><text x="484.05" y="196" text-anchor="start" >50</text><text x="436.45" y="212.3" text-anchor="start" textLength="100"><tspan font-style="italic">θ</tspan> ( ° ) vs . dB</text><text x="449.45" y="109" text-anchor="end" ><tspan font-style="italic">φ</tspan> = 140°</text><text x="534.65" y="109" text-anchor="start" ><tspan font-style="italic">φ</tspan> = 320°</text><text x="535.45" y="230.1" text-anchor="middle" >(<tspan font-weight="bold" style="font-size:17.8px">b</tspan>)</text><g clip-path="url(#cb1)"><g filter="url(#bl)"><path d="M295.50 76.40C298.21 76.18 301.12 76.46 304.25 77.60C307.38 78.74 311.12 81.06 314.25 83.25C317.38 85.44 320.71 88.46 323.00 90.75C325.29 93.04 326.82 94.88 328.00 97.00C329.18 99.12 329.89 100.88 330.10 103.50C330.31 106.12 330.02 109.96 329.25 112.75C328.48 115.54 327.38 118.06 325.50 120.25C323.62 122.44 320.92 124.69 318.00 125.90C315.08 127.11 311.75 127.36 308.00 127.50C304.25 127.64 299.35 127.43 295.50 126.75C291.65 126.07 287.61 124.90 284.90 123.40C282.19 121.90 280.61 119.94 279.25 117.75C277.89 115.56 277.21 112.72 276.75 110.25C276.29 107.78 276.29 105.94 276.50 102.90C276.71 99.86 277.12 95.07 278.00 92.00C278.88 88.93 280.08 86.68 281.75 84.50C283.42 82.32 285.71 80.25 288.00 78.90C290.29 77.55 292.79 76.62 295.50 76.40Z" fill="#269a1a"/><path d="M295.29 78.07C297.80 77.86 300.51 78.12 303.41 79.18C306.32 80.24 309.80 82.39 312.70 84.43C315.60 86.46 318.70 89.26 320.82 91.39C322.95 93.52 324.37 95.22 325.47 97.19C326.57 99.17 327.22 100.79 327.42 103.23C327.61 105.67 327.34 109.23 326.63 111.82C325.92 114.41 324.89 116.75 323.15 118.78C321.40 120.82 318.89 122.91 316.18 124.03C313.47 125.15 310.38 125.38 306.90 125.52C303.41 125.65 298.86 125.45 295.29 124.82C291.71 124.18 287.96 123.10 285.45 121.71C282.93 120.32 281.46 118.50 280.20 116.46C278.94 114.43 278.30 111.80 277.88 109.50C277.45 107.20 277.45 105.50 277.65 102.67C277.84 99.85 278.23 95.40 279.04 92.55C279.85 89.70 280.97 87.61 282.52 85.59C284.07 83.56 286.20 81.64 288.32 80.39C290.45 79.13 292.77 78.27 295.29 78.07Z" fill="#5caf1b"/><path d="M295.15 79.76C297.47 79.58 299.97 79.81 302.65 80.79C305.33 81.77 308.55 83.75 311.22 85.63C313.90 87.51 316.76 90.10 318.72 92.06C320.69 94.03 322.00 95.60 323.01 97.42C324.02 99.24 324.63 100.74 324.81 102.99C324.99 105.24 324.74 108.53 324.08 110.92C323.42 113.31 322.47 115.47 320.87 117.35C319.26 119.23 316.94 121.15 314.44 122.19C311.94 123.23 309.08 123.44 305.87 123.56C302.65 123.68 298.45 123.50 295.15 122.92C291.85 122.33 288.39 121.33 286.07 120.05C283.75 118.76 282.39 117.08 281.22 115.20C280.06 113.33 279.47 110.90 279.08 108.78C278.69 106.65 278.69 105.08 278.87 102.48C279.05 99.87 279.40 95.76 280.15 93.13C280.90 90.50 281.94 88.58 283.37 86.70C284.80 84.83 286.76 83.06 288.72 81.90C290.69 80.75 292.83 79.95 295.15 79.76Z" fill="#7bb61a"/><path d="M295.09 81.49C297.22 81.32 299.51 81.53 301.97 82.43C304.42 83.33 307.37 85.15 309.83 86.87C312.28 88.59 314.90 90.96 316.70 92.76C318.50 94.56 319.70 96.00 320.63 97.67C321.56 99.34 322.12 100.72 322.28 102.78C322.44 104.84 322.21 107.86 321.61 110.05C321.01 112.24 320.14 114.22 318.67 115.94C317.19 117.66 315.06 119.43 312.77 120.38C310.48 121.33 307.86 121.53 304.92 121.64C301.97 121.75 298.12 121.59 295.09 121.05C292.07 120.51 288.89 119.59 286.77 118.42C284.64 117.24 283.39 115.70 282.33 113.98C281.26 112.26 280.72 110.03 280.36 108.08C280.00 106.14 280.00 104.70 280.17 102.31C280.33 99.92 280.66 96.15 281.34 93.74C282.03 91.34 282.98 89.57 284.29 87.85C285.60 86.14 287.40 84.51 289.20 83.45C291.00 82.39 292.97 81.66 295.09 81.49Z" fill="#8fb819"/><path d="M295.11 83.24C297.05 83.09 299.13 83.29 301.36 84.10C303.59 84.92 306.27 86.57 308.51 88.14C310.74 89.70 313.12 91.86 314.76 93.49C316.39 95.13 317.48 96.44 318.33 97.96C319.17 99.48 319.68 100.73 319.83 102.60C319.98 104.48 319.77 107.22 319.22 109.21C318.67 111.20 317.88 113.00 316.54 114.57C315.20 116.13 313.27 117.74 311.18 118.60C309.10 119.47 306.72 119.64 304.04 119.74C301.36 119.85 297.86 119.70 295.11 119.21C292.36 118.72 289.48 117.89 287.54 116.82C285.61 115.74 284.48 114.35 283.51 112.78C282.53 111.22 282.05 109.19 281.72 107.42C281.39 105.66 281.39 104.35 281.54 102.17C281.69 100.00 281.99 96.58 282.61 94.39C283.24 92.20 284.10 90.59 285.29 89.03C286.48 87.47 288.12 85.99 289.76 85.03C291.39 84.07 293.18 83.40 295.11 83.24Z" fill="#a0ba18"/><path d="M295.21 85.03C296.95 84.89 298.82 85.07 300.83 85.80C302.84 86.54 305.25 88.03 307.26 89.44C309.27 90.85 311.41 92.78 312.89 94.26C314.36 95.73 315.34 96.91 316.10 98.28C316.86 99.64 317.32 100.77 317.45 102.45C317.58 104.14 317.40 106.61 316.90 108.40C316.41 110.20 315.70 111.81 314.49 113.22C313.29 114.63 311.55 116.08 309.67 116.85C307.80 117.63 305.65 117.79 303.24 117.88C300.83 117.97 297.68 117.84 295.21 117.40C292.73 116.96 290.13 116.21 288.39 115.25C286.65 114.28 285.63 113.02 284.76 111.61C283.89 110.21 283.45 108.38 283.15 106.79C282.86 105.20 282.86 104.02 282.99 102.07C283.13 100.11 283.39 97.03 283.96 95.06C284.52 93.09 285.30 91.64 286.37 90.24C287.44 88.84 288.91 87.51 290.39 86.64C291.86 85.77 293.47 85.17 295.21 85.03Z" fill="#acbb17"/><path d="M295.38 86.85C296.93 86.73 298.59 86.88 300.38 87.54C302.16 88.19 304.31 89.51 306.09 90.77C307.88 92.02 309.78 93.74 311.09 95.05C312.40 96.36 313.27 97.41 313.95 98.62C314.63 99.84 315.03 100.84 315.15 102.34C315.27 103.84 315.10 106.03 314.66 107.62C314.23 109.22 313.59 110.66 312.52 111.91C311.45 113.16 309.90 114.45 308.23 115.14C306.57 115.83 304.66 115.97 302.52 116.05C300.38 116.13 297.58 116.01 295.38 115.62C293.18 115.23 290.87 114.57 289.32 113.71C287.77 112.85 286.87 111.73 286.09 110.48C285.32 109.23 284.93 107.61 284.66 106.19C284.40 104.78 284.40 103.73 284.52 101.99C284.64 100.26 284.88 97.52 285.38 95.77C285.88 94.01 286.57 92.73 287.52 91.48C288.47 90.23 289.78 89.05 291.09 88.28C292.40 87.51 293.83 86.97 295.38 86.85Z" fill="#b7bd15"/><path d="M295.62 88.70C296.98 88.59 298.44 88.73 300.00 89.30C301.56 89.87 303.44 91.03 305.00 92.12C306.56 93.22 308.23 94.73 309.38 95.88C310.52 97.02 311.28 97.94 311.88 99.00C312.47 100.06 312.82 100.94 312.93 102.25C313.03 103.56 312.88 105.48 312.50 106.88C312.12 108.27 311.56 109.53 310.62 110.62C309.69 111.72 308.33 112.85 306.88 113.45C305.42 114.05 303.75 114.18 301.88 114.25C300.00 114.32 297.55 114.22 295.62 113.88C293.70 113.53 291.68 112.95 290.32 112.20C288.97 111.45 288.18 110.47 287.50 109.38C286.82 108.28 286.48 106.86 286.25 105.62C286.02 104.39 286.02 103.47 286.12 101.95C286.23 100.43 286.44 98.03 286.88 96.50C287.31 94.97 287.92 93.84 288.75 92.75C289.58 91.66 290.73 90.62 291.88 89.95C293.02 89.28 294.27 88.81 295.62 88.70Z" fill="#c2bf13"/><path d="M295.95 90.58C297.11 90.49 298.36 90.60 299.70 91.09C301.04 91.58 302.65 92.58 303.98 93.52C305.32 94.45 306.75 95.75 307.73 96.73C308.72 97.71 309.37 98.50 309.88 99.41C310.38 100.32 310.69 101.07 310.78 102.19C310.87 103.32 310.74 104.96 310.41 106.16C310.08 107.35 309.61 108.43 308.81 109.37C308.00 110.31 306.84 111.28 305.59 111.79C304.34 112.31 302.91 112.42 301.31 112.48C299.70 112.54 297.60 112.45 295.95 112.16C294.30 111.87 292.57 111.37 291.41 110.72C290.25 110.08 289.57 109.24 288.98 108.30C288.40 107.36 288.11 106.15 287.91 105.09C287.72 104.03 287.72 103.24 287.81 101.94C287.90 100.63 288.07 98.58 288.45 97.27C288.82 95.95 289.34 94.99 290.06 94.05C290.77 93.12 291.75 92.23 292.73 91.65C293.72 91.07 294.79 90.67 295.95 90.58Z" fill="#d1c111"/><path d="M296.35 92.49C297.32 92.41 298.36 92.51 299.47 92.92C300.59 93.33 301.93 94.15 303.05 94.94C304.16 95.72 305.35 96.80 306.17 97.61C306.99 98.43 307.53 99.09 307.96 99.85C308.38 100.61 308.63 101.23 308.71 102.17C308.78 103.11 308.68 104.47 308.40 105.47C308.13 106.47 307.73 107.37 307.06 108.15C306.39 108.93 305.43 109.74 304.39 110.17C303.34 110.60 302.15 110.69 300.81 110.74C299.47 110.79 297.72 110.72 296.35 110.47C294.97 110.23 293.53 109.81 292.56 109.28C291.60 108.74 291.03 108.04 290.55 107.26C290.06 106.47 289.82 105.46 289.65 104.58C289.49 103.70 289.49 103.04 289.56 101.95C289.64 100.87 289.79 99.16 290.10 98.06C290.41 96.97 290.84 96.16 291.44 95.38C292.03 94.60 292.85 93.86 293.67 93.38C294.49 92.90 295.38 92.57 296.35 92.49Z" fill="#e1c30f"/><path d="M296.83 94.43C297.60 94.37 298.43 94.45 299.33 94.77C300.22 95.10 301.29 95.76 302.18 96.39C303.08 97.01 304.03 97.88 304.68 98.53C305.34 99.19 305.77 99.71 306.11 100.32C306.45 100.92 306.65 101.42 306.71 102.17C306.77 102.92 306.69 104.02 306.47 104.82C306.25 105.61 305.93 106.33 305.40 106.96C304.86 107.59 304.09 108.23 303.26 108.57C302.42 108.92 301.47 108.99 300.40 109.03C299.33 109.07 297.93 109.01 296.83 108.82C295.73 108.62 294.57 108.29 293.80 107.86C293.02 107.43 292.57 106.87 292.18 106.24C291.80 105.62 291.60 104.81 291.47 104.10C291.34 103.39 291.34 102.87 291.40 102.00C291.46 101.13 291.58 99.76 291.83 98.89C292.08 98.01 292.42 97.37 292.90 96.74C293.37 96.12 294.03 95.53 294.68 95.14C295.34 94.76 296.05 94.49 296.83 94.43Z" fill="#e6c50e"/><path d="M297.38 96.40C297.96 96.36 298.59 96.41 299.26 96.66C299.92 96.90 300.73 97.40 301.40 97.87C302.07 98.34 302.78 98.99 303.27 99.48C303.76 99.97 304.09 100.36 304.34 100.82C304.60 101.27 304.75 101.65 304.79 102.21C304.84 102.77 304.78 103.59 304.61 104.19C304.45 104.79 304.21 105.33 303.81 105.80C303.41 106.27 302.83 106.75 302.20 107.01C301.58 107.27 300.86 107.32 300.06 107.35C299.26 107.38 298.21 107.34 297.38 107.19C296.56 107.04 295.69 106.79 295.11 106.47C294.53 106.15 294.19 105.73 293.90 105.26C293.61 104.79 293.46 104.19 293.36 103.66C293.26 103.13 293.26 102.73 293.31 102.08C293.35 101.43 293.44 100.40 293.63 99.74C293.82 99.09 294.08 98.61 294.43 98.14C294.79 97.67 295.28 97.23 295.77 96.94C296.26 96.65 296.80 96.45 297.38 96.40Z" fill="#e8c60d"/><path d="M298.01 98.40C298.40 98.37 298.81 98.41 299.26 98.58C299.71 98.74 300.24 99.07 300.69 99.38C301.14 99.70 301.61 100.13 301.94 100.45C302.27 100.78 302.48 101.04 302.65 101.35C302.82 101.65 302.92 101.90 302.95 102.28C302.98 102.65 302.94 103.20 302.83 103.60C302.72 104.00 302.56 104.36 302.30 104.67C302.03 104.98 301.64 105.30 301.22 105.48C300.81 105.65 300.33 105.68 299.80 105.70C299.26 105.72 298.56 105.69 298.01 105.60C297.46 105.50 296.88 105.33 296.50 105.12C296.11 104.90 295.88 104.62 295.69 104.31C295.49 104.00 295.40 103.59 295.33 103.24C295.27 102.89 295.27 102.62 295.30 102.19C295.33 101.76 295.39 101.07 295.51 100.63C295.64 100.19 295.81 99.87 296.05 99.56C296.28 99.25 296.61 98.95 296.94 98.76C297.27 98.57 297.62 98.44 298.01 98.40Z" fill="#eac70d"/><path d="M298.72 100.44C298.91 100.42 299.12 100.44 299.34 100.52C299.57 100.60 299.83 100.77 300.06 100.93C300.28 101.08 300.52 101.30 300.68 101.46C300.84 101.63 300.95 101.76 301.04 101.91C301.12 102.06 301.17 102.18 301.19 102.37C301.20 102.56 301.18 102.83 301.13 103.03C301.07 103.23 300.99 103.41 300.86 103.57C300.73 103.73 300.53 103.89 300.32 103.97C300.12 104.06 299.88 104.08 299.61 104.09C299.34 104.10 298.99 104.08 298.72 104.03C298.44 103.98 298.15 103.90 297.96 103.79C297.77 103.69 297.65 103.55 297.56 103.39C297.46 103.23 297.41 103.03 297.38 102.85C297.34 102.68 297.34 102.55 297.36 102.33C297.37 102.11 297.40 101.77 297.47 101.55C297.53 101.33 297.62 101.17 297.73 101.02C297.85 100.86 298.02 100.71 298.18 100.62C298.34 100.52 298.52 100.45 298.72 100.44Z" fill="#edc80c"/></g></g><g clip-path="url(#cb1p)"><g filter="url(#bl)"><path d="M295.50 160.10C298.21 159.88 301.12 160.16 304.25 161.30C307.38 162.44 311.12 164.76 314.25 166.95C317.38 169.14 320.71 172.16 323.00 174.45C325.29 176.74 326.82 178.57 328.00 180.70C329.18 182.82 329.89 184.57 330.10 187.20C330.31 189.82 330.02 193.66 329.25 196.45C328.48 199.24 327.38 201.76 325.50 203.95C323.62 206.14 320.92 208.39 318.00 209.60C315.08 210.81 311.75 211.06 308.00 211.20C304.25 211.34 299.35 211.13 295.50 210.45C291.65 209.77 287.61 208.60 284.90 207.10C282.19 205.60 280.61 203.64 279.25 201.45C277.89 199.26 277.21 196.42 276.75 193.95C276.29 191.47 276.29 189.64 276.50 186.60C276.71 183.56 277.12 178.77 278.00 175.70C278.88 172.63 280.08 170.38 281.75 168.20C283.42 166.02 285.71 163.95 288.00 162.60C290.29 161.25 292.79 160.32 295.50 160.10Z" fill="#1aa41c"/><path d="M295.82 162.11C298.34 161.91 301.04 162.16 303.95 163.22C306.85 164.28 310.33 166.43 313.23 168.47C316.13 170.50 319.23 173.30 321.36 175.43C323.49 177.56 324.90 179.26 326.00 181.24C327.10 183.21 327.76 184.83 327.95 187.27C328.14 189.71 327.87 193.27 327.16 195.86C326.45 198.45 325.42 200.79 323.68 202.82C321.94 204.86 319.42 206.95 316.71 208.07C314.01 209.19 310.91 209.43 307.43 209.56C303.95 209.69 299.40 209.50 295.82 208.86C292.25 208.23 288.49 207.14 285.98 205.75C283.46 204.36 281.99 202.54 280.73 200.50C279.47 198.47 278.84 195.84 278.41 193.54C277.99 191.24 277.99 189.54 278.18 186.71C278.37 183.89 278.76 179.44 279.57 176.59C280.38 173.75 281.51 171.66 283.05 169.63C284.60 167.60 286.73 165.68 288.86 164.43C290.99 163.18 293.31 162.31 295.82 162.11Z" fill="#1cb11e"/><path d="M296.14 164.11C298.46 163.93 300.96 164.16 303.64 165.14C306.32 166.12 309.54 168.11 312.21 169.99C314.89 171.86 317.75 174.45 319.71 176.41C321.68 178.38 322.99 179.95 324.00 181.77C325.01 183.59 325.62 185.09 325.80 187.34C325.98 189.59 325.73 192.88 325.07 195.27C324.41 197.66 323.46 199.82 321.86 201.70C320.25 203.58 317.93 205.51 315.43 206.54C312.93 207.58 310.07 207.79 306.86 207.91C303.64 208.04 299.44 207.86 296.14 207.27C292.84 206.69 289.38 205.69 287.06 204.40C284.74 203.11 283.38 201.44 282.21 199.56C281.05 197.68 280.46 195.25 280.07 193.13C279.68 191.01 279.68 189.44 279.86 186.83C280.04 184.22 280.39 180.11 281.14 177.49C281.89 174.86 282.93 172.93 284.36 171.06C285.79 169.19 287.75 167.41 289.71 166.26C291.68 165.10 293.82 164.30 296.14 164.11Z" fill="#1bb61e"/><path d="M296.46 166.12C298.59 165.95 300.88 166.17 303.34 167.06C305.79 167.96 308.74 169.78 311.20 171.50C313.65 173.23 316.27 175.60 318.07 177.40C319.87 179.20 321.07 180.64 322.00 182.31C322.93 183.98 323.49 185.35 323.65 187.41C323.81 189.48 323.58 192.49 322.98 194.68C322.38 196.88 321.51 198.85 320.04 200.57C318.56 202.30 316.43 204.06 314.14 205.01C311.85 205.96 309.23 206.16 306.29 206.27C303.34 206.38 299.49 206.22 296.46 205.68C293.44 205.15 290.26 204.23 288.14 203.05C286.01 201.87 284.76 200.33 283.70 198.61C282.63 196.89 282.09 194.66 281.73 192.72C281.37 190.77 281.37 189.33 281.54 186.94C281.70 184.55 282.03 180.79 282.71 178.38C283.40 175.97 284.35 174.20 285.66 172.49C286.97 170.77 288.77 169.15 290.57 168.09C292.37 167.03 294.34 166.29 296.46 166.12Z" fill="#1abc1e"/><path d="M296.79 168.13C298.72 167.97 300.80 168.17 303.04 168.99C305.27 169.80 307.95 171.46 310.18 173.02C312.41 174.59 314.79 176.74 316.43 178.38C318.07 180.02 319.15 181.33 320.00 182.84C320.85 184.36 321.35 185.61 321.50 187.49C321.65 189.36 321.44 192.10 320.89 194.09C320.35 196.09 319.55 197.88 318.21 199.45C316.88 201.02 314.94 202.62 312.86 203.49C310.77 204.35 308.39 204.53 305.71 204.63C303.04 204.73 299.54 204.58 296.79 204.09C294.04 203.60 291.15 202.77 289.21 201.70C287.28 200.63 286.15 199.23 285.18 197.66C284.21 196.10 283.72 194.08 283.39 192.31C283.07 190.54 283.07 189.23 283.21 187.06C283.36 184.88 283.66 181.46 284.29 179.27C284.91 177.08 285.77 175.47 286.96 173.91C288.15 172.35 289.79 170.88 291.43 169.91C293.07 168.95 294.85 168.28 296.79 168.13Z" fill="#19c01d"/><path d="M297.11 170.14C298.85 170.00 300.72 170.17 302.73 170.91C304.74 171.64 307.15 173.13 309.16 174.54C311.17 175.95 313.31 177.89 314.79 179.36C316.26 180.83 317.24 182.01 318.00 183.38C318.76 184.74 319.22 185.87 319.35 187.56C319.48 189.24 319.30 191.71 318.80 193.50C318.31 195.30 317.60 196.92 316.39 198.32C315.19 199.73 313.45 201.18 311.57 201.96C309.70 202.73 307.55 202.89 305.14 202.99C302.73 203.08 299.58 202.94 297.11 202.50C294.63 202.06 292.03 201.31 290.29 200.35C288.55 199.39 287.53 198.13 286.66 196.72C285.79 195.31 285.35 193.49 285.05 191.90C284.76 190.31 284.76 189.13 284.89 187.17C285.03 185.22 285.29 182.14 285.86 180.16C286.42 178.19 287.20 176.75 288.27 175.34C289.34 173.94 290.81 172.61 292.29 171.74C293.76 170.88 295.37 170.28 297.11 170.14Z" fill="#17c51d"/><path d="M297.43 172.14C298.98 172.02 300.64 172.18 302.43 172.83C304.21 173.48 306.36 174.80 308.14 176.06C309.93 177.31 311.83 179.03 313.14 180.34C314.45 181.65 315.32 182.70 316.00 183.91C316.68 185.13 317.08 186.13 317.20 187.63C317.32 189.13 317.15 191.32 316.71 192.91C316.28 194.51 315.64 195.95 314.57 197.20C313.50 198.45 311.95 199.74 310.29 200.43C308.62 201.12 306.71 201.26 304.57 201.34C302.43 201.42 299.63 201.30 297.43 200.91C295.23 200.52 292.92 199.86 291.37 199.00C289.82 198.14 288.92 197.02 288.14 195.77C287.37 194.52 286.98 192.90 286.71 191.49C286.45 190.07 286.45 189.02 286.57 187.29C286.69 185.55 286.93 182.81 287.43 181.06C287.93 179.30 288.62 178.02 289.57 176.77C290.52 175.52 291.83 174.34 293.14 173.57C294.45 172.80 295.88 172.27 297.43 172.14Z" fill="#16c91c"/><path d="M297.75 174.15C299.10 174.04 300.56 174.18 302.12 174.75C303.69 175.32 305.56 176.48 307.12 177.57C308.69 178.67 310.35 180.18 311.50 181.32C312.65 182.47 313.41 183.39 314.00 184.45C314.59 185.51 314.95 186.39 315.05 187.70C315.15 189.01 315.01 190.93 314.62 192.32C314.24 193.72 313.69 194.98 312.75 196.07C311.81 197.17 310.46 198.30 309.00 198.90C307.54 199.50 305.88 199.63 304.00 199.70C302.12 199.77 299.68 199.67 297.75 199.32C295.82 198.98 293.80 198.40 292.45 197.65C291.10 196.90 290.30 195.92 289.62 194.82C288.95 193.73 288.60 192.31 288.38 191.07C288.15 189.84 288.15 188.92 288.25 187.40C288.35 185.88 288.56 183.48 289.00 181.95C289.44 180.42 290.04 179.29 290.88 178.20C291.71 177.11 292.85 176.07 294.00 175.40C295.15 174.73 296.40 174.26 297.75 174.15Z" fill="#13cd1a"/><path d="M298.07 176.16C299.23 176.06 300.48 176.18 301.82 176.67C303.16 177.16 304.77 178.15 306.11 179.09C307.45 180.03 308.88 181.33 309.86 182.31C310.84 183.29 311.49 184.08 312.00 184.99C312.51 185.90 312.81 186.65 312.90 187.77C312.99 188.90 312.86 190.54 312.54 191.74C312.21 192.93 311.73 194.01 310.93 194.95C310.12 195.89 308.96 196.85 307.71 197.37C306.46 197.89 305.04 198.00 303.43 198.06C301.82 198.12 299.72 198.03 298.07 197.74C296.42 197.44 294.69 196.94 293.53 196.30C292.37 195.66 291.69 194.82 291.11 193.88C290.52 192.94 290.23 191.72 290.04 190.66C289.84 189.60 289.84 188.82 289.93 187.51C290.02 186.21 290.20 184.16 290.57 182.84C290.95 181.53 291.46 180.56 292.18 179.63C292.89 178.69 293.88 177.81 294.86 177.23C295.84 176.65 296.91 176.25 298.07 176.16Z" fill="#11d119"/><path d="M298.39 178.16C299.36 178.09 300.40 178.19 301.52 178.59C302.63 179.00 303.97 179.83 305.09 180.61C306.21 181.39 307.40 182.47 308.21 183.29C309.03 184.11 309.58 184.76 310.00 185.52C310.42 186.28 310.68 186.91 310.75 187.84C310.82 188.78 310.72 190.15 310.45 191.15C310.17 192.14 309.78 193.04 309.11 193.82C308.44 194.61 307.47 195.41 306.43 195.84C305.39 196.27 304.20 196.36 302.86 196.41C301.52 196.46 299.77 196.39 298.39 196.15C297.02 195.90 295.57 195.49 294.61 194.95C293.64 194.41 293.07 193.71 292.59 192.93C292.10 192.15 291.86 191.14 291.70 190.25C291.53 189.37 291.53 188.71 291.61 187.63C291.68 186.54 291.83 184.83 292.14 183.74C292.46 182.64 292.89 181.84 293.48 181.06C294.08 180.28 294.90 179.54 295.71 179.06C296.53 178.58 297.43 178.24 298.39 178.16Z" fill="#10d518"/><path d="M298.71 180.17C299.49 180.11 300.32 180.19 301.21 180.51C302.11 180.84 303.18 181.50 304.07 182.13C304.96 182.75 305.92 183.62 306.57 184.27C307.23 184.93 307.66 185.45 308.00 186.06C308.34 186.66 308.54 187.16 308.60 187.91C308.66 188.66 308.58 189.76 308.36 190.56C308.14 191.35 307.82 192.07 307.29 192.70C306.75 193.33 305.98 193.97 305.14 194.31C304.31 194.66 303.36 194.73 302.29 194.77C301.21 194.81 299.81 194.75 298.71 194.56C297.61 194.36 296.46 194.03 295.69 193.60C294.91 193.17 294.46 192.61 294.07 191.99C293.68 191.36 293.49 190.55 293.36 189.84C293.23 189.14 293.23 188.61 293.29 187.74C293.35 186.87 293.46 185.50 293.71 184.63C293.96 183.75 294.31 183.11 294.79 182.49C295.26 181.86 295.92 181.27 296.57 180.89C297.23 180.50 297.94 180.23 298.71 180.17Z" fill="#0fd717"/><path d="M299.04 182.18C299.62 182.13 300.24 182.19 300.91 182.44C301.58 182.68 302.38 183.18 303.05 183.65C303.72 184.12 304.44 184.76 304.93 185.25C305.42 185.74 305.75 186.14 306.00 186.59C306.25 187.05 306.41 187.42 306.45 187.99C306.49 188.55 306.43 189.37 306.27 189.97C306.10 190.57 305.87 191.11 305.46 191.57C305.06 192.04 304.48 192.53 303.86 192.79C303.23 193.04 302.52 193.10 301.71 193.13C300.91 193.16 299.86 193.11 299.04 192.97C298.21 192.82 297.34 192.57 296.76 192.25C296.18 191.93 295.84 191.51 295.55 191.04C295.26 190.57 295.12 189.96 295.02 189.43C294.92 188.90 294.92 188.51 294.96 187.86C295.01 187.21 295.10 186.18 295.29 185.52C295.47 184.86 295.73 184.38 296.09 183.91C296.45 183.45 296.94 183.00 297.43 182.71C297.92 182.43 298.46 182.23 299.04 182.18Z" fill="#0ed916"/><path d="M299.36 184.19C299.74 184.15 300.16 184.19 300.61 184.36C301.05 184.52 301.59 184.85 302.04 185.16C302.48 185.48 302.96 185.91 303.29 186.24C303.61 186.56 303.83 186.82 304.00 187.13C304.17 187.43 304.27 187.68 304.30 188.06C304.33 188.43 304.29 188.98 304.18 189.38C304.07 189.78 303.91 190.14 303.64 190.45C303.38 190.76 302.99 191.08 302.57 191.26C302.15 191.43 301.68 191.47 301.14 191.49C300.61 191.51 299.91 191.48 299.36 191.38C298.81 191.28 298.23 191.11 297.84 190.90C297.46 190.69 297.23 190.41 297.04 190.09C296.84 189.78 296.74 189.38 296.68 189.02C296.61 188.67 296.61 188.41 296.64 187.97C296.67 187.54 296.73 186.85 296.86 186.41C296.98 185.98 297.15 185.65 297.39 185.34C297.63 185.03 297.96 184.74 298.29 184.54C298.61 184.35 298.97 184.22 299.36 184.19Z" fill="#0ddb15"/><path d="M299.68 186.19C299.87 186.18 300.08 186.20 300.30 186.28C300.53 186.36 300.79 186.53 301.02 186.68C301.24 186.84 301.48 187.05 301.64 187.22C301.81 187.38 301.92 187.51 302.00 187.66C302.08 187.82 302.14 187.94 302.15 188.13C302.16 188.32 302.14 188.59 302.09 188.79C302.03 188.99 301.96 189.17 301.82 189.32C301.69 189.48 301.49 189.64 301.29 189.73C301.08 189.81 300.84 189.83 300.57 189.84C300.30 189.85 299.95 189.84 299.68 189.79C299.40 189.74 299.11 189.66 298.92 189.55C298.73 189.44 298.61 189.30 298.52 189.15C298.42 188.99 298.37 188.79 298.34 188.61C298.31 188.43 298.31 188.30 298.32 188.09C298.34 187.87 298.37 187.53 298.43 187.31C298.49 187.09 298.58 186.93 298.70 186.77C298.82 186.62 298.98 186.47 299.14 186.37C299.31 186.28 299.49 186.21 299.68 186.19Z" fill="#0cdd14"/><ellipse cx="333.2" cy="187.7" rx="6" ry="15" fill="#66a41a"/></g></g><g clip-path="url(#cb2)"><path d="M633.10 75.60C634.98 75.53 637.92 76.14 640.00 76.50C642.08 76.86 643.93 78.00 645.60 77.75C647.27 77.50 648.23 75.78 650.00 75.00C651.77 74.22 653.96 73.42 656.25 73.10C658.54 72.78 661.46 72.78 663.75 73.10C666.04 73.42 668.12 74.06 670.00 75.00C671.88 75.94 673.43 77.50 675.00 78.75C676.57 80.00 677.94 81.67 679.40 82.50C680.86 83.33 682.72 83.12 683.75 83.75C684.78 84.38 685.19 85.00 685.60 86.25C686.01 87.50 686.10 89.79 686.20 91.25C686.30 92.71 686.40 93.33 686.20 95.00C686.00 96.67 685.83 99.38 685.00 101.25C684.17 103.12 682.92 104.89 681.25 106.25C679.58 107.61 676.14 108.15 675.00 109.40C673.86 110.65 674.40 112.32 674.40 113.75C674.40 115.18 675.22 116.33 675.00 118.00C674.78 119.67 674.14 122.17 673.10 123.75C672.06 125.33 670.52 126.56 668.75 127.50C666.98 128.44 664.58 128.98 662.50 129.40C660.42 129.82 658.12 129.48 656.25 130.00C654.38 130.52 652.92 131.83 651.25 132.50C649.58 133.17 647.92 133.90 646.25 134.00C644.58 134.10 643.12 133.56 641.25 133.10C639.38 132.64 637.29 131.77 635.00 131.25C632.71 130.73 629.58 130.83 627.50 130.00C625.42 129.17 623.65 127.92 622.50 126.25C621.35 124.58 620.81 122.08 620.60 120.00C620.39 117.92 620.83 115.62 621.25 113.75C621.67 111.88 622.58 110.42 623.10 108.75C623.62 107.08 624.60 105.42 624.40 103.75C624.20 102.08 622.47 100.62 621.90 98.75C621.33 96.88 621.00 94.58 621.00 92.50C621.00 90.42 621.44 88.23 621.90 86.25C622.36 84.27 622.61 82.16 623.75 80.60C624.89 79.04 627.19 77.73 628.75 76.90C630.31 76.07 631.23 75.67 633.10 75.60Z" fill="#16c418"/><path d="M633.10 75.60C634.98 75.53 637.92 76.14 640.00 76.50C642.08 76.86 643.93 78.00 645.60 77.75C647.27 77.50 648.23 75.78 650.00 75.00C651.77 74.22 653.96 73.42 656.25 73.10C658.54 72.78 661.46 72.78 663.75 73.10C666.04 73.42 668.12 74.06 670.00 75.00C671.88 75.94 673.43 77.50 675.00 78.75C676.57 80.00 677.94 81.67 679.40 82.50C680.86 83.33 682.72 83.12 683.75 83.75C684.78 84.38 685.19 85.00 685.60 86.25C686.01 87.50 686.10 89.79 686.20 91.25C686.30 92.71 686.40 93.33 686.20 95.00C686.00 96.67 685.83 99.38 685.00 101.25C684.17 103.12 682.92 104.89 681.25 106.25C679.58 107.61 676.14 108.15 675.00 109.40C673.86 110.65 674.40 112.32 674.40 113.75C674.40 115.18 675.22 116.33 675.00 118.00C674.78 119.67 674.14 122.17 673.10 123.75C672.06 125.33 670.52 126.56 668.75 127.50C666.98 128.44 664.58 128.98 662.50 129.40C660.42 129.82 658.12 129.48 656.25 130.00C654.38 130.52 652.92 131.83 651.25 132.50C649.58 133.17 647.92 133.90 646.25 134.00C644.58 134.10 643.12 133.56 641.25 133.10C639.38 132.64 637.29 131.77 635.00 131.25C632.71 130.73 629.58 130.83 627.50 130.00C625.42 129.17 623.65 127.92 622.50 126.25C621.35 124.58 620.81 122.08 620.60 120.00C620.39 117.92 620.83 115.62 621.25 113.75C621.67 111.88 622.58 110.42 623.10 108.75C623.62 107.08 624.60 105.42 624.40 103.75C624.20 102.08 622.47 100.62 621.90 98.75C621.33 96.88 621.00 94.58 621.00 92.50C621.00 90.42 621.44 88.23 621.90 86.25C622.36 84.27 622.61 82.16 623.75 80.60C624.89 79.04 627.19 77.73 628.75 76.90C630.31 76.07 631.23 75.67 633.10 75.60Z" fill="none" stroke="#10a610" stroke-width="3" filter="url(#bl2)"/><ellipse cx="630.6" cy="84" rx="9.5" ry="9.5" fill="url(#hy)"/><ellipse cx="628.3" cy="121" rx="8.5" ry="10" fill="url(#hy)"/><ellipse cx="663.3" cy="117" rx="12" ry="13.5" fill="url(#hy)"/><ellipse cx="666.9" cy="78.75" rx="3.8" ry="2.8" fill="url(#hy)"/><ellipse cx="682.6" cy="93.1" rx="2.6" ry="4.4" fill="url(#hy)"/><ellipse cx="646.5" cy="129" rx="5" ry="4" fill="url(#hg)"/><g filter="url(#bl2)" opacity="0.55"><path d="M640 100L652 103L651 128L641 126Z" fill="#0c9c0e"/><path d="M622 104L640 102L638 110L623 110Z" fill="#0c9c0e"/></g><g filter="url(#bl2)"><path d="M647 80.5L650 84L654 90L660 96L667 100L663 103L655 102.5L649 99L646.5 92L646 86Z" fill="#16c684"/><ellipse cx="645.5" cy="110.5" rx="2.8" ry="10" transform="rotate(-6 645.5 110.5)" fill="#18c680"/></g><g filter="url(#bl)"><path d="M650 91L653 94L657.5 97L662.5 99.8L658.5 100.8L653.5 99.3L650.3 96Z" fill="#1aa2d6"/><ellipse cx="646" cy="107.5" rx="1.5" ry="4.5" transform="rotate(-6 646 107.5)" fill="#18a4d4"/></g></g><g clip-path="url(#cb2p)"><g filter="url(#bl3)"><path fill="#31e00d" d="M652.1 155.6h1.8v1.8h-1.8zM652.1 157.1h1.8v1.8h-1.8zM652.1 158.6h1.8v1.8h-1.8zM646.1 215.6h1.8v1.8h-1.8zM646.1 217.1h1.8v1.8h-1.8z"/><path fill="#54e00d" d="M653.6 155.6h1.8v1.8h-1.8zM653.6 157.1h1.8v1.8h-1.8zM653.6 158.6h1.8v1.8h-1.8zM653.6 160.1h1.8v1.8h-1.8zM652.1 170.6h1.8v1.8h-1.8zM652.1 172.1h1.8v1.8h-1.8zM652.1 173.6h1.8v1.8h-1.8zM652.1 175.1h1.8v1.8h-1.8zM652.1 176.6h1.8v1.8h-1.8zM646.1 191.6h1.8v1.8h-1.8zM646.1 197.6h1.8v1.8h-1.8zM646.1 199.1h1.8v1.8h-1.8zM646.1 200.6h1.8v1.8h-1.8zM646.1 202.1h1.8v1.8h-1.8zM646.1 203.6h1.8v1.8h-1.8zM644.6 211.1h1.8v1.8h-1.8zM644.6 212.6h1.8v1.8h-1.8zM644.6 214.1h1.8v1.8h-1.8zM644.6 215.6h1.8v1.8h-1.8zM644.6 217.1h1.8v1.8h-1.8z"/><path fill="#65e00d" d="M655.1 155.6h1.8v1.8h-1.8zM655.1 157.1h1.8v1.8h-1.8zM653.6 161.6h1.8v1.8h-1.8zM653.6 163.1h1.8v1.8h-1.8zM653.6 164.6h1.8v1.8h-1.8zM653.6 166.1h1.8v1.8h-1.8zM646.1 193.1h1.8v1.8h-1.8zM646.1 194.6h1.8v1.8h-1.8zM646.1 196.1h1.8v1.8h-1.8zM644.6 206.6h1.8v1.8h-1.8zM644.6 208.1h1.8v1.8h-1.8zM644.6 209.6h1.8v1.8h-1.8zM643.1 214.1h1.8v1.8h-1.8zM643.1 215.6h1.8v1.8h-1.8zM643.1 217.1h1.8v1.8h-1.8z"/><path fill="#89e00d" d="M656.6 155.6h1.8v1.8h-1.8zM656.6 157.1h1.8v1.8h-1.8zM656.6 158.6h1.8v1.8h-1.8zM655.1 163.1h1.8v1.8h-1.8zM655.1 164.6h1.8v1.8h-1.8zM653.6 170.6h1.8v1.8h-1.8zM653.6 172.1h1.8v1.8h-1.8zM644.6 199.1h1.8v1.8h-1.8zM644.6 200.6h1.8v1.8h-1.8zM643.1 206.6h1.8v1.8h-1.8zM643.1 208.1h1.8v1.8h-1.8zM641.6 212.6h1.8v1.8h-1.8zM641.6 214.1h1.8v1.8h-1.8zM641.6 215.6h1.8v1.8h-1.8zM640.1 217.1h1.8v1.8h-1.8z"/><path fill="#9ae00d" d="M658.1 155.6h1.8v1.8h-1.8zM658.1 157.1h1.8v1.8h-1.8zM656.6 160.1h1.8v1.8h-1.8zM656.6 161.6h1.8v1.8h-1.8zM656.6 163.1h1.8v1.8h-1.8zM655.1 166.1h1.8v1.8h-1.8zM655.1 167.6h1.8v1.8h-1.8zM653.6 173.6h1.8v1.8h-1.8zM644.6 197.6h1.8v1.8h-1.8zM643.1 203.6h1.8v1.8h-1.8zM643.1 205.1h1.8v1.8h-1.8zM641.6 208.1h1.8v1.8h-1.8zM641.6 209.6h1.8v1.8h-1.8zM641.6 211.1h1.8v1.8h-1.8zM640.1 214.1h1.8v1.8h-1.8zM640.1 215.6h1.8v1.8h-1.8z"/><path fill="#ace00d" d="M659.6 155.6h1.8v1.8h-1.8zM658.1 158.6h1.8v1.8h-1.8zM658.1 160.1h1.8v1.8h-1.8zM656.6 164.6h1.8v1.8h-1.8zM655.1 169.1h1.8v1.8h-1.8zM653.6 175.1h1.8v1.8h-1.8zM644.6 196.1h1.8v1.8h-1.8zM643.1 200.6h1.8v1.8h-1.8zM643.1 202.1h1.8v1.8h-1.8zM641.6 205.1h1.8v1.8h-1.8zM641.6 206.6h1.8v1.8h-1.8zM640.1 209.6h1.8v1.8h-1.8zM640.1 211.1h1.8v1.8h-1.8zM640.1 212.6h1.8v1.8h-1.8zM638.6 214.1h1.8v1.8h-1.8zM638.6 215.6h1.8v1.8h-1.8zM638.6 217.1h1.8v1.8h-1.8z"/><path fill="#bde00d" d="M661.1 155.6h1.8v1.8h-1.8zM659.6 157.1h1.8v1.8h-1.8zM659.6 158.6h1.8v1.8h-1.8zM658.1 161.6h1.8v1.8h-1.8zM658.1 163.1h1.8v1.8h-1.8zM656.6 166.1h1.8v1.8h-1.8zM656.6 167.6h1.8v1.8h-1.8zM655.1 170.6h1.8v1.8h-1.8zM655.1 172.1h1.8v1.8h-1.8zM653.6 176.6h1.8v1.8h-1.8zM644.6 194.6h1.8v1.8h-1.8zM643.1 199.1h1.8v1.8h-1.8zM641.6 203.6h1.8v1.8h-1.8zM640.1 208.1h1.8v1.8h-1.8zM638.6 211.1h1.8v1.8h-1.8zM638.6 212.6h1.8v1.8h-1.8zM637.1 215.6h1.8v1.8h-1.8zM637.1 217.1h1.8v1.8h-1.8z"/><path fill="#e0e00d" d="M662.6 155.6h3.3v1.8h-3.3zM662.6 157.1h1.8v1.8h-1.8zM662.6 158.6h1.8v1.8h-1.8zM661.1 160.1h1.8v1.8h-1.8zM661.1 161.6h1.8v1.8h-1.8zM659.6 163.1h1.8v1.8h-1.8zM659.6 164.6h1.8v1.8h-1.8zM658.1 166.1h1.8v1.8h-1.8zM658.1 167.6h1.8v1.8h-1.8zM656.6 170.6h1.8v1.8h-1.8zM655.1 173.6h1.8v1.8h-1.8zM653.6 178.1h1.8v1.8h-1.8zM643.1 196.1h1.8v1.8h-1.8zM641.6 199.1h1.8v1.8h-1.8zM641.6 200.6h1.8v1.8h-1.8zM640.1 203.6h1.8v1.8h-1.8zM638.6 206.6h1.8v1.8h-1.8zM637.1 209.6h1.8v1.8h-1.8zM637.1 211.1h1.8v1.8h-1.8zM635.6 212.6h1.8v1.8h-1.8zM635.6 214.1h1.8v1.8h-1.8zM634.1 215.6h1.8v1.8h-1.8z"/><path fill="#e0cf0d" d="M665.6 155.6h1.8v1.8h-1.8zM664.1 157.1h1.8v1.8h-1.8zM664.1 158.6h1.8v1.8h-1.8zM662.6 160.1h1.8v1.8h-1.8zM662.6 161.6h1.8v1.8h-1.8zM661.1 163.1h1.8v1.8h-1.8zM661.1 164.6h1.8v1.8h-1.8zM659.6 166.1h1.8v1.8h-1.8zM658.1 169.1h1.8v1.8h-1.8zM656.6 172.1h1.8v1.8h-1.8zM655.1 175.1h1.8v1.8h-1.8zM644.6 191.6h1.8v1.8h-1.8zM643.1 194.6h1.8v1.8h-1.8zM641.6 197.6h1.8v1.8h-1.8zM640.1 200.6h1.8v1.8h-1.8zM640.1 202.1h1.8v1.8h-1.8zM638.6 203.6h1.8v1.8h-1.8zM638.6 205.1h1.8v1.8h-1.8zM637.1 206.6h1.8v1.8h-1.8zM637.1 208.1h1.8v1.8h-1.8zM635.6 209.6h1.8v1.8h-1.8zM634.1 211.1h3.3v1.8h-3.3zM634.1 212.6h1.8v1.8h-1.8zM632.6 214.1h3.3v1.8h-3.3zM632.6 215.6h1.8v1.8h-1.8z"/><path fill="#0de01f" d="M647.6 157.1h1.8v1.8h-1.8zM647.6 158.6h1.8v1.8h-1.8zM649.1 160.1h1.8v1.8h-1.8zM649.1 161.6h1.8v1.8h-1.8zM649.1 163.1h1.8v1.8h-1.8zM649.1 164.6h1.8v1.8h-1.8zM649.1 166.1h1.8v1.8h-1.8zM649.1 167.6h1.8v1.8h-1.8zM649.1 169.1h1.8v1.8h-1.8zM650.6 175.1h1.8v1.8h-1.8zM650.6 176.6h1.8v1.8h-1.8zM647.6 193.1h1.8v1.8h-1.8zM649.1 197.6h1.8v1.8h-1.8zM649.1 199.1h1.8v1.8h-1.8zM649.1 200.6h1.8v1.8h-1.8zM649.1 202.1h1.8v1.8h-1.8zM649.1 203.6h1.8v1.8h-1.8zM649.1 205.1h1.8v1.8h-1.8zM650.6 208.1h1.8v1.8h-1.8zM650.6 209.6h1.8v1.8h-1.8zM650.6 211.1h1.8v1.8h-1.8zM650.6 212.6h1.8v1.8h-1.8zM650.6 214.1h1.8v1.8h-1.8zM650.6 215.6h1.8v1.8h-1.8zM650.6 217.1h1.8v1.8h-1.8z"/><path fill="#0de00d" d="M649.1 157.1h1.8v1.8h-1.8zM649.1 158.6h1.8v1.8h-1.8zM650.6 170.6h1.8v1.8h-1.8zM650.6 172.1h1.8v1.8h-1.8zM650.6 173.6h1.8v1.8h-1.8zM646.1 190.1h1.8v1.8h-1.8zM647.6 194.6h1.8v1.8h-1.8zM649.1 206.6h1.8v1.8h-1.8zM649.1 208.1h1.8v1.8h-1.8zM649.1 209.6h1.8v1.8h-1.8zM649.1 211.1h1.8v1.8h-1.8zM649.1 212.6h1.8v1.8h-1.8zM649.1 214.1h1.8v1.8h-1.8zM649.1 215.6h1.8v1.8h-1.8zM649.1 217.1h1.8v1.8h-1.8z"/><path fill="#1fe00d" d="M650.6 157.1h1.8v1.8h-1.8zM650.6 158.6h1.8v1.8h-1.8zM650.6 160.1h1.8v1.8h-1.8zM650.6 161.6h1.8v1.8h-1.8zM650.6 163.1h1.8v1.8h-1.8zM650.6 164.6h1.8v1.8h-1.8zM650.6 166.1h1.8v1.8h-1.8zM650.6 167.6h1.8v1.8h-1.8zM650.6 169.1h1.8v1.8h-1.8zM647.6 196.1h1.8v1.8h-1.8zM647.6 197.6h1.8v1.8h-1.8zM647.6 199.1h1.8v1.8h-1.8zM647.6 200.6h1.8v1.8h-1.8zM647.6 202.1h1.8v1.8h-1.8zM647.6 203.6h1.8v1.8h-1.8zM647.6 205.1h1.8v1.8h-1.8zM647.6 206.6h1.8v1.8h-1.8zM647.6 208.1h1.8v1.8h-1.8zM647.6 209.6h1.8v1.8h-1.8zM647.6 211.1h1.8v1.8h-1.8zM647.6 212.6h1.8v1.8h-1.8zM647.6 214.1h1.8v1.8h-1.8zM647.6 215.6h1.8v1.8h-1.8zM647.6 217.1h1.8v1.8h-1.8z"/><path fill="#cfe00d" d="M661.1 157.1h1.8v1.8h-1.8zM661.1 158.6h1.8v1.8h-1.8zM659.6 160.1h1.8v1.8h-1.8zM659.6 161.6h1.8v1.8h-1.8zM658.1 164.6h1.8v1.8h-1.8zM656.6 169.1h1.8v1.8h-1.8zM644.6 193.1h1.8v1.8h-1.8zM643.1 197.6h1.8v1.8h-1.8zM641.6 202.1h1.8v1.8h-1.8zM640.1 205.1h1.8v1.8h-1.8zM640.1 206.6h1.8v1.8h-1.8zM638.6 208.1h1.8v1.8h-1.8zM638.6 209.6h1.8v1.8h-1.8zM637.1 212.6h1.8v1.8h-1.8zM637.1 214.1h1.8v1.8h-1.8zM635.6 215.6h1.8v1.8h-1.8z"/><path fill="#e0bd0d" d="M665.6 157.1h3.3v1.8h-3.3zM665.6 158.6h1.8v1.8h-1.8zM664.1 160.1h1.8v1.8h-1.8zM664.1 161.6h1.8v1.8h-1.8zM662.6 163.1h1.8v1.8h-1.8zM662.6 164.6h1.8v1.8h-1.8zM661.1 166.1h1.8v1.8h-1.8zM659.6 167.6h1.8v1.8h-1.8zM659.6 169.1h1.8v1.8h-1.8zM658.1 170.6h1.8v1.8h-1.8zM656.6 173.6h1.8v1.8h-1.8zM655.1 176.6h1.8v1.8h-1.8zM641.6 196.1h1.8v1.8h-1.8zM640.1 199.1h1.8v1.8h-1.8zM638.6 202.1h1.8v1.8h-1.8zM637.1 203.6h1.8v1.8h-1.8zM637.1 205.1h1.8v1.8h-1.8zM635.6 206.6h1.8v1.8h-1.8zM634.1 208.1h3.3v1.8h-3.3zM634.1 209.6h1.8v1.8h-1.8zM632.6 211.1h1.8v1.8h-1.8zM631.1 212.6h3.3v1.8h-3.3zM631.1 214.1h1.8v1.8h-1.8zM631.1 215.6h1.8v1.8h-1.8z"/><path fill="#e0ac0d" d="M668.6 157.1h1.8v1.8h-1.8zM667.1 158.6h1.8v1.8h-1.8zM665.6 160.1h3.3v1.8h-3.3zM665.6 161.6h1.8v1.8h-1.8zM664.1 163.1h1.8v1.8h-1.8zM664.1 164.6h1.8v1.8h-1.8zM662.6 166.1h1.8v1.8h-1.8zM661.1 167.6h1.8v1.8h-1.8zM659.6 170.6h1.8v1.8h-1.8zM658.1 172.1h1.8v1.8h-1.8zM656.6 175.1h1.8v1.8h-1.8zM643.1 193.1h1.8v1.8h-1.8zM640.1 197.6h1.8v1.8h-1.8zM638.6 200.6h1.8v1.8h-1.8zM637.1 202.1h1.8v1.8h-1.8zM635.6 203.6h1.8v1.8h-1.8zM635.6 205.1h1.8v1.8h-1.8zM634.1 206.6h1.8v1.8h-1.8zM632.6 208.1h1.8v1.8h-1.8zM631.1 209.6h3.3v1.8h-3.3zM631.1 211.1h1.8v1.8h-1.8zM629.6 212.6h1.8v1.8h-1.8zM628.1 214.1h3.3v1.8h-3.3z"/><path fill="#e09a0d" d="M670.1 157.1h1.8v1.8h-1.8zM668.6 158.6h3.3v1.8h-3.3zM668.6 160.1h1.8v1.8h-1.8zM667.1 161.6h1.8v1.8h-1.8zM665.6 163.1h3.3v1.8h-3.3zM665.6 164.6h1.8v1.8h-1.8zM664.1 166.1h1.8v1.8h-1.8zM662.6 167.6h1.8v1.8h-1.8zM661.1 169.1h1.8v1.8h-1.8zM659.6 172.1h1.8v1.8h-1.8zM658.1 173.6h1.8v1.8h-1.8zM653.6 179.6h1.8v1.8h-1.8zM641.6 194.6h1.8v1.8h-1.8zM640.1 196.1h1.8v1.8h-1.8zM638.6 199.1h1.8v1.8h-1.8zM637.1 200.6h1.8v1.8h-1.8zM635.6 202.1h1.8v1.8h-1.8zM634.1 203.6h1.8v1.8h-1.8zM634.1 205.1h1.8v1.8h-1.8zM632.6 206.6h1.8v1.8h-1.8zM631.1 208.1h1.8v1.8h-1.8zM629.6 209.6h1.8v1.8h-1.8zM628.1 211.1h3.3v1.8h-3.3zM626.6 212.6h3.3v1.8h-3.3zM626.6 214.1h1.8v1.8h-1.8z"/><path fill="#0d77e0" d="M628.1 158.6h3.3v1.8h-3.3zM628.1 160.1h3.3v1.8h-3.3zM629.6 161.6h3.3v1.8h-3.3zM631.1 163.1h3.3v1.8h-3.3zM632.6 164.6h3.3v1.8h-3.3zM634.1 166.1h1.8v1.8h-1.8zM635.6 167.6h1.8v1.8h-1.8zM637.1 169.1h1.8v1.8h-1.8zM637.1 170.6h3.3v1.8h-3.3zM638.6 172.1h3.3v1.8h-3.3zM640.1 173.6h1.8v1.8h-1.8zM641.6 175.1h1.8v1.8h-1.8zM643.1 176.6h1.8v1.8h-1.8zM644.6 178.1h1.8v1.8h-1.8zM646.1 179.6h1.8v1.8h-1.8zM647.6 181.1h3.3v1.8h-3.3zM649.1 188.6h3.3v1.8h-3.3zM652.1 190.1h1.8v1.8h-1.8zM653.6 191.6h1.8v1.8h-1.8zM655.1 193.1h1.8v1.8h-1.8zM656.6 194.6h1.8v1.8h-1.8zM658.1 196.1h1.8v1.8h-1.8zM659.6 197.6h1.8v1.8h-1.8zM659.6 199.1h3.3v1.8h-3.3zM661.1 200.6h3.3v1.8h-3.3zM662.6 202.1h3.3v1.8h-3.3zM664.1 203.6h1.8v1.8h-1.8zM665.6 205.1h1.8v1.8h-1.8zM665.6 206.6h3.3v1.8h-3.3zM667.1 208.1h3.3v1.8h-3.3zM668.6 209.6h3.3v1.8h-3.3zM670.1 211.1h1.8v1.8h-1.8z"/><path fill="#0d89e0" d="M631.1 158.6h1.8v1.8h-1.8zM631.1 160.1h3.3v1.8h-3.3zM632.6 161.6h1.8v1.8h-1.8zM634.1 163.1h1.8v1.8h-1.8zM635.6 164.6h1.8v1.8h-1.8zM635.6 166.1h3.3v1.8h-3.3zM637.1 167.6h1.8v1.8h-1.8zM638.6 169.1h1.8v1.8h-1.8zM640.1 170.6h1.8v1.8h-1.8zM641.6 173.6h1.8v1.8h-1.8zM643.1 175.1h1.8v1.8h-1.8zM644.6 176.6h1.8v1.8h-1.8zM646.1 178.1h1.8v1.8h-1.8zM647.6 179.6h1.8v1.8h-1.8zM650.6 181.1h1.8v1.8h-1.8zM647.6 188.6h1.8v1.8h-1.8zM655.1 194.6h1.8v1.8h-1.8zM656.6 196.1h1.8v1.8h-1.8zM658.1 197.6h1.8v1.8h-1.8zM659.6 200.6h1.8v1.8h-1.8zM661.1 202.1h1.8v1.8h-1.8zM662.6 203.6h1.8v1.8h-1.8zM662.6 205.1h3.3v1.8h-3.3zM664.1 206.6h1.8v1.8h-1.8zM665.6 208.1h1.8v1.8h-1.8zM665.6 209.6h3.3v1.8h-3.3zM667.1 211.1h3.3v1.8h-3.3z"/><path fill="#0d9ae0" d="M632.6 158.6h1.8v1.8h-1.8zM634.1 160.1h1.8v1.8h-1.8zM634.1 161.6h1.8v1.8h-1.8zM635.6 163.1h1.8v1.8h-1.8zM637.1 164.6h1.8v1.8h-1.8zM638.6 167.6h1.8v1.8h-1.8zM640.1 169.1h1.8v1.8h-1.8zM641.6 172.1h1.8v1.8h-1.8zM643.1 173.6h1.8v1.8h-1.8zM650.6 190.1h1.8v1.8h-1.8zM652.1 191.6h1.8v1.8h-1.8zM653.6 193.1h1.8v1.8h-1.8zM656.6 197.6h1.8v1.8h-1.8zM658.1 199.1h1.8v1.8h-1.8zM659.6 202.1h1.8v1.8h-1.8zM661.1 203.6h1.8v1.8h-1.8zM662.6 206.6h1.8v1.8h-1.8zM664.1 208.1h1.8v1.8h-1.8zM664.1 209.6h1.8v1.8h-1.8zM665.6 211.1h1.8v1.8h-1.8zM667.1 212.6h1.8v1.8h-1.8z"/><path fill="#0dace0" d="M634.1 158.6h1.8v1.8h-1.8zM635.6 160.1h1.8v1.8h-1.8zM635.6 161.6h1.8v1.8h-1.8zM637.1 163.1h1.8v1.8h-1.8zM638.6 166.1h1.8v1.8h-1.8zM640.1 167.6h1.8v1.8h-1.8zM641.6 170.6h1.8v1.8h-1.8zM644.6 175.1h1.8v1.8h-1.8zM653.6 194.6h1.8v1.8h-1.8zM655.1 196.1h1.8v1.8h-1.8zM656.6 199.1h1.8v1.8h-1.8zM658.1 200.6h1.8v1.8h-1.8zM659.6 203.6h1.8v1.8h-1.8zM661.1 205.1h1.8v1.8h-1.8zM661.1 206.6h1.8v1.8h-1.8zM662.6 208.1h1.8v1.8h-1.8zM662.6 209.6h1.8v1.8h-1.8zM664.1 211.1h1.8v1.8h-1.8zM665.6 212.6h1.8v1.8h-1.8z"/><path fill="#0dbde0" d="M635.6 158.6h1.8v1.8h-1.8zM637.1 160.1h1.8v1.8h-1.8zM637.1 161.6h1.8v1.8h-1.8zM638.6 163.1h1.8v1.8h-1.8zM638.6 164.6h1.8v1.8h-1.8zM640.1 166.1h1.8v1.8h-1.8zM641.6 169.1h1.8v1.8h-1.8zM643.1 172.1h1.8v1.8h-1.8zM644.6 173.6h1.8v1.8h-1.8zM646.1 176.6h1.8v1.8h-1.8zM647.6 178.1h1.8v1.8h-1.8zM649.1 179.6h1.8v1.8h-1.8zM649.1 190.1h1.8v1.8h-1.8zM652.1 193.1h1.8v1.8h-1.8zM655.1 197.6h1.8v1.8h-1.8zM656.6 200.6h1.8v1.8h-1.8zM658.1 202.1h1.8v1.8h-1.8zM658.1 203.6h1.8v1.8h-1.8zM659.6 205.1h1.8v1.8h-1.8zM659.6 206.6h1.8v1.8h-1.8zM661.1 208.1h1.8v1.8h-1.8zM662.6 211.1h1.8v1.8h-1.8zM664.1 212.6h1.8v1.8h-1.8z"/><path fill="#0dcfe0" d="M637.1 158.6h1.8v1.8h-1.8zM638.6 160.1h1.8v1.8h-1.8zM638.6 161.6h1.8v1.8h-1.8zM640.1 164.6h1.8v1.8h-1.8zM641.6 167.6h1.8v1.8h-1.8zM643.1 170.6h1.8v1.8h-1.8zM646.1 175.1h1.8v1.8h-1.8zM650.6 191.6h1.8v1.8h-1.8zM653.6 196.1h1.8v1.8h-1.8zM655.1 199.1h1.8v1.8h-1.8zM656.6 202.1h1.8v1.8h-1.8zM658.1 205.1h1.8v1.8h-1.8zM659.6 208.1h1.8v1.8h-1.8zM661.1 209.6h1.8v1.8h-1.8zM661.1 211.1h1.8v1.8h-1.8zM662.6 212.6h1.8v1.8h-1.8zM662.6 214.1h1.8v1.8h-1.8z"/><path fill="#0de0e0" d="M638.6 158.6h1.8v1.8h-1.8zM640.1 161.6h1.8v1.8h-1.8zM640.1 163.1h1.8v1.8h-1.8zM641.6 164.6h1.8v1.8h-1.8zM641.6 166.1h1.8v1.8h-1.8zM643.1 169.1h1.8v1.8h-1.8zM644.6 172.1h1.8v1.8h-1.8zM647.6 176.6h1.8v1.8h-1.8zM652.1 194.6h1.8v1.8h-1.8zM653.6 197.6h1.8v1.8h-1.8zM655.1 200.6h1.8v1.8h-1.8zM656.6 203.6h1.8v1.8h-1.8zM658.1 206.6h1.8v1.8h-1.8zM659.6 209.6h1.8v1.8h-1.8zM659.6 211.1h1.8v1.8h-1.8zM661.1 212.6h1.8v1.8h-1.8zM661.1 214.1h1.8v1.8h-1.8z"/><path fill="#0de0bd" d="M640.1 158.6h1.8v1.8h-1.8zM641.6 161.6h1.8v1.8h-1.8zM641.6 163.1h1.8v1.8h-1.8zM643.1 166.1h1.8v1.8h-1.8zM649.1 178.1h1.8v1.8h-1.8zM650.6 179.6h1.8v1.8h-1.8zM652.1 196.1h1.8v1.8h-1.8zM653.6 199.1h1.8v1.8h-1.8zM656.6 206.6h1.8v1.8h-1.8zM658.1 209.6h1.8v1.8h-1.8zM658.1 211.1h1.8v1.8h-1.8zM659.6 214.1h1.8v1.8h-1.8z"/><path fill="#0de09a" d="M641.6 158.6h1.8v1.8h-1.8zM643.1 163.1h1.8v1.8h-1.8zM644.6 167.6h1.8v1.8h-1.8zM650.6 194.6h1.8v1.8h-1.8zM652.1 197.6h1.8v1.8h-1.8zM653.6 202.1h1.8v1.8h-1.8zM655.1 205.1h1.8v1.8h-1.8zM655.1 206.6h1.8v1.8h-1.8zM656.6 209.6h1.8v1.8h-1.8zM656.6 211.1h1.8v1.8h-1.8zM658.1 214.1h1.8v1.8h-1.8z"/><path fill="#0de031" d="M646.1 158.6h1.8v1.8h-1.8zM647.6 160.1h1.8v1.8h-1.8zM647.6 161.6h1.8v1.8h-1.8zM647.6 163.1h1.8v1.8h-1.8zM647.6 164.6h1.8v1.8h-1.8zM647.6 166.1h1.8v1.8h-1.8zM647.6 167.6h1.8v1.8h-1.8zM649.1 170.6h1.8v1.8h-1.8zM649.1 172.1h1.8v1.8h-1.8zM649.1 173.6h1.8v1.8h-1.8zM652.1 179.6h1.8v1.8h-1.8zM647.6 191.6h1.8v1.8h-1.8zM649.1 196.1h1.8v1.8h-1.8zM650.6 200.6h1.8v1.8h-1.8zM650.6 202.1h1.8v1.8h-1.8zM650.6 203.6h1.8v1.8h-1.8zM650.6 205.1h1.8v1.8h-1.8zM650.6 206.6h1.8v1.8h-1.8zM652.1 208.1h1.8v1.8h-1.8zM652.1 209.6h1.8v1.8h-1.8zM652.1 211.1h1.8v1.8h-1.8zM652.1 212.6h1.8v1.8h-1.8zM652.1 214.1h1.8v1.8h-1.8zM652.1 215.6h1.8v1.8h-1.8zM652.1 217.1h1.8v1.8h-1.8z"/><path fill="#77e00d" d="M655.1 158.6h1.8v1.8h-1.8zM655.1 160.1h1.8v1.8h-1.8zM655.1 161.6h1.8v1.8h-1.8zM653.6 167.6h1.8v1.8h-1.8zM653.6 169.1h1.8v1.8h-1.8zM644.6 202.1h1.8v1.8h-1.8zM644.6 203.6h1.8v1.8h-1.8zM644.6 205.1h1.8v1.8h-1.8zM643.1 209.6h1.8v1.8h-1.8zM643.1 211.1h1.8v1.8h-1.8zM643.1 212.6h1.8v1.8h-1.8zM641.6 217.1h1.8v1.8h-1.8z"/><path fill="#e0890d" d="M671.6 158.6h3.3v1.8h-3.3zM670.1 160.1h3.3v1.8h-3.3zM668.6 161.6h3.3v1.8h-3.3zM668.6 163.1h1.8v1.8h-1.8zM667.1 164.6h1.8v1.8h-1.8zM665.6 166.1h1.8v1.8h-1.8zM664.1 167.6h1.8v1.8h-1.8zM662.6 169.1h1.8v1.8h-1.8zM661.1 170.6h1.8v1.8h-1.8zM659.6 173.6h1.8v1.8h-1.8zM658.1 175.1h1.8v1.8h-1.8zM656.6 176.6h1.8v1.8h-1.8zM655.1 178.1h1.8v1.8h-1.8zM638.6 197.6h1.8v1.8h-1.8zM637.1 199.1h1.8v1.8h-1.8zM635.6 200.6h1.8v1.8h-1.8zM634.1 202.1h1.8v1.8h-1.8zM632.6 203.6h1.8v1.8h-1.8zM631.1 205.1h3.3v1.8h-3.3zM629.6 206.6h3.3v1.8h-3.3zM628.1 208.1h3.3v1.8h-3.3zM626.6 209.6h3.3v1.8h-3.3zM625.1 211.1h3.3v1.8h-3.3zM623.6 212.6h3.3v1.8h-3.3zM625.1 214.1h1.8v1.8h-1.8z"/><path fill="#0d65e0" d="M625.1 160.1h3.3v1.8h-3.3zM626.6 161.6h3.3v1.8h-3.3zM628.1 163.1h3.3v1.8h-3.3zM629.6 164.6h3.3v1.8h-3.3zM631.1 166.1h3.3v1.8h-3.3zM632.6 167.6h3.3v1.8h-3.3zM634.1 169.1h3.3v1.8h-3.3zM635.6 170.6h1.8v1.8h-1.8zM637.1 172.1h1.8v1.8h-1.8zM638.6 173.6h1.8v1.8h-1.8zM640.1 175.1h1.8v1.8h-1.8zM641.6 176.6h1.8v1.8h-1.8zM643.1 178.1h1.8v1.8h-1.8zM644.6 179.6h1.8v1.8h-1.8zM646.1 181.1h1.8v1.8h-1.8zM652.1 181.1h1.8v1.8h-1.8zM649.1 182.6h1.8v1.8h-1.8zM649.1 187.1h1.8v1.8h-1.8zM652.1 188.6h1.8v1.8h-1.8zM653.6 190.1h1.8v1.8h-1.8zM655.1 191.6h1.8v1.8h-1.8zM656.6 193.1h1.8v1.8h-1.8zM658.1 194.6h1.8v1.8h-1.8zM659.6 196.1h1.8v1.8h-1.8zM661.1 197.6h1.8v1.8h-1.8zM662.6 199.1h1.8v1.8h-1.8zM664.1 200.6h1.8v1.8h-1.8zM665.6 202.1h1.8v1.8h-1.8zM665.6 203.6h3.3v1.8h-3.3zM667.1 205.1h3.3v1.8h-3.3zM668.6 206.6h3.3v1.8h-3.3zM670.1 208.1h3.3v1.8h-3.3zM671.6 209.6h1.8v1.8h-1.8z"/><path fill="#0de0cf" d="M640.1 160.1h1.8v1.8h-1.8zM643.1 167.6h1.8v1.8h-1.8zM644.6 170.6h1.8v1.8h-1.8zM646.1 173.6h1.8v1.8h-1.8zM650.6 193.1h1.8v1.8h-1.8zM655.1 202.1h1.8v1.8h-1.8zM656.6 205.1h1.8v1.8h-1.8zM658.1 208.1h1.8v1.8h-1.8zM659.6 212.6h1.8v1.8h-1.8z"/><path fill="#0de0ac" d="M641.6 160.1h1.8v1.8h-1.8zM643.1 164.6h1.8v1.8h-1.8zM644.6 169.1h1.8v1.8h-1.8zM646.1 172.1h1.8v1.8h-1.8zM647.6 175.1h1.8v1.8h-1.8zM647.6 190.1h1.8v1.8h-1.8zM649.1 191.6h1.8v1.8h-1.8zM653.6 200.6h1.8v1.8h-1.8zM655.1 203.6h1.8v1.8h-1.8zM656.6 208.1h1.8v1.8h-1.8zM658.1 212.6h1.8v1.8h-1.8z"/><path fill="#0de077" d="M643.1 160.1h1.8v1.8h-1.8zM644.6 164.6h1.8v1.8h-1.8zM646.1 169.1h1.8v1.8h-1.8zM647.6 173.6h1.8v1.8h-1.8zM649.1 176.6h1.8v1.8h-1.8zM653.6 205.1h1.8v1.8h-1.8zM655.1 209.6h1.8v1.8h-1.8zM656.6 214.1h1.8v1.8h-1.8z"/><path fill="#0de054" d="M644.6 160.1h1.8v1.8h-1.8zM646.1 166.1h1.8v1.8h-1.8zM650.6 197.6h1.8v1.8h-1.8zM652.1 202.1h1.8v1.8h-1.8zM652.1 203.6h1.8v1.8h-1.8zM653.6 208.1h1.8v1.8h-1.8zM653.6 209.6h1.8v1.8h-1.8zM655.1 214.1h1.8v1.8h-1.8zM655.1 215.6h1.8v1.8h-1.8z"/><path fill="#0de042" d="M646.1 160.1h1.8v1.8h-1.8zM646.1 161.6h1.8v1.8h-1.8zM646.1 163.1h1.8v1.8h-1.8zM646.1 164.6h1.8v1.8h-1.8zM647.6 169.1h1.8v1.8h-1.8zM647.6 170.6h1.8v1.8h-1.8zM649.1 175.1h1.8v1.8h-1.8zM650.6 178.1h1.8v1.8h-1.8zM649.1 194.6h1.8v1.8h-1.8zM650.6 199.1h1.8v1.8h-1.8zM652.1 205.1h1.8v1.8h-1.8zM652.1 206.6h1.8v1.8h-1.8zM653.6 211.1h1.8v1.8h-1.8zM653.6 212.6h1.8v1.8h-1.8zM653.6 214.1h1.8v1.8h-1.8zM653.6 215.6h1.8v1.8h-1.8z"/><path fill="#42e00d" d="M652.1 160.1h1.8v1.8h-1.8zM652.1 161.6h1.8v1.8h-1.8zM652.1 163.1h1.8v1.8h-1.8zM652.1 164.6h1.8v1.8h-1.8zM652.1 166.1h1.8v1.8h-1.8zM652.1 167.6h1.8v1.8h-1.8zM652.1 169.1h1.8v1.8h-1.8zM652.1 178.1h1.8v1.8h-1.8zM646.1 205.1h1.8v1.8h-1.8zM646.1 206.6h1.8v1.8h-1.8zM646.1 208.1h1.8v1.8h-1.8zM646.1 209.6h1.8v1.8h-1.8zM646.1 211.1h1.8v1.8h-1.8zM646.1 212.6h1.8v1.8h-1.8zM646.1 214.1h1.8v1.8h-1.8z"/><path fill="#e0770d" d="M673.1 160.1h3.3v1.8h-3.3zM671.6 161.6h3.3v1.8h-3.3zM670.1 163.1h3.3v1.8h-3.3zM668.6 164.6h3.3v1.8h-3.3zM667.1 166.1h3.3v1.8h-3.3zM665.6 167.6h3.3v1.8h-3.3zM664.1 169.1h3.3v1.8h-3.3zM662.6 170.6h3.3v1.8h-3.3zM661.1 172.1h1.8v1.8h-1.8zM644.6 190.1h1.8v1.8h-1.8zM643.1 191.6h1.8v1.8h-1.8zM641.6 193.1h1.8v1.8h-1.8zM640.1 194.6h1.8v1.8h-1.8zM638.6 196.1h1.8v1.8h-1.8zM637.1 197.6h1.8v1.8h-1.8zM635.6 199.1h1.8v1.8h-1.8zM634.1 200.6h1.8v1.8h-1.8zM632.6 202.1h1.8v1.8h-1.8zM629.6 203.6h3.3v1.8h-3.3zM628.1 205.1h3.3v1.8h-3.3zM626.6 206.6h3.3v1.8h-3.3zM625.1 208.1h3.3v1.8h-3.3zM623.6 209.6h3.3v1.8h-3.3zM622.1 211.1h3.3v1.8h-3.3z"/><path fill="#0d54e0" d="M623.6 161.6h3.3v1.8h-3.3zM623.6 163.1h4.8v1.8h-4.8zM625.1 164.6h4.8v1.8h-4.8zM628.1 166.1h3.3v1.8h-3.3zM629.6 167.6h3.3v1.8h-3.3zM631.1 169.1h3.3v1.8h-3.3zM632.6 170.6h3.3v1.8h-3.3zM634.1 172.1h3.3v1.8h-3.3zM637.1 173.6h1.8v1.8h-1.8zM638.6 175.1h1.8v1.8h-1.8zM640.1 176.6h1.8v1.8h-1.8zM641.6 178.1h1.8v1.8h-1.8zM643.1 179.6h1.8v1.8h-1.8zM644.6 181.1h1.8v1.8h-1.8zM647.6 182.6h1.8v1.8h-1.8zM650.6 182.6h1.8v1.8h-1.8zM649.1 184.1h1.8v1.8h-1.8zM649.1 185.6h3.3v1.8h-3.3zM647.6 187.1h1.8v1.8h-1.8zM650.6 187.1h3.3v1.8h-3.3zM646.1 188.6h1.8v1.8h-1.8zM653.6 188.6h1.8v1.8h-1.8zM655.1 190.1h1.8v1.8h-1.8zM656.6 191.6h1.8v1.8h-1.8zM658.1 193.1h1.8v1.8h-1.8zM659.6 194.6h1.8v1.8h-1.8zM661.1 196.1h3.3v1.8h-3.3zM662.6 197.6h3.3v1.8h-3.3zM664.1 199.1h3.3v1.8h-3.3zM665.6 200.6h3.3v1.8h-3.3zM667.1 202.1h3.3v1.8h-3.3zM668.6 203.6h4.8v1.8h-4.8zM670.1 205.1h4.8v1.8h-4.8zM671.6 206.6h3.3v1.8h-3.3zM673.1 208.1h1.8v1.8h-1.8z"/><path fill="#0de089" d="M643.1 161.6h1.8v1.8h-1.8zM644.6 166.1h1.8v1.8h-1.8zM646.1 170.6h1.8v1.8h-1.8zM652.1 199.1h1.8v1.8h-1.8zM653.6 203.6h1.8v1.8h-1.8zM655.1 208.1h1.8v1.8h-1.8zM656.6 212.6h1.8v1.8h-1.8z"/><path fill="#0de065" d="M644.6 161.6h1.8v1.8h-1.8zM644.6 163.1h1.8v1.8h-1.8zM646.1 167.6h1.8v1.8h-1.8zM647.6 172.1h1.8v1.8h-1.8zM649.1 193.1h1.8v1.8h-1.8zM650.6 196.1h1.8v1.8h-1.8zM652.1 200.6h1.8v1.8h-1.8zM653.6 206.6h1.8v1.8h-1.8zM655.1 211.1h1.8v1.8h-1.8zM655.1 212.6h1.8v1.8h-1.8z"/><path fill="#e0650d" d="M674.6 161.6h3.3v1.8h-3.3zM673.1 163.1h3.3v1.8h-3.3zM671.6 164.6h3.3v1.8h-3.3zM670.1 166.1h3.3v1.8h-3.3zM668.6 167.6h1.8v1.8h-1.8zM667.1 169.1h1.8v1.8h-1.8zM665.6 170.6h1.8v1.8h-1.8zM662.6 172.1h3.3v1.8h-3.3zM661.1 173.6h1.8v1.8h-1.8zM659.6 175.1h1.8v1.8h-1.8zM658.1 176.6h1.8v1.8h-1.8zM640.1 193.1h1.8v1.8h-1.8zM638.6 194.6h1.8v1.8h-1.8zM637.1 196.1h1.8v1.8h-1.8zM635.6 197.6h1.8v1.8h-1.8zM632.6 199.1h3.3v1.8h-3.3zM631.1 200.6h3.3v1.8h-3.3zM629.6 202.1h3.3v1.8h-3.3zM628.1 203.6h1.8v1.8h-1.8zM625.1 205.1h3.3v1.8h-3.3zM623.6 206.6h3.3v1.8h-3.3zM622.1 208.1h3.3v1.8h-3.3zM620.6 209.6h3.3v1.8h-3.3zM620.6 211.1h1.8v1.8h-1.8z"/><path fill="#0d42e0" d="M622.1 163.1h1.8v1.8h-1.8zM622.1 164.6h3.3v1.8h-3.3zM620.6 166.1h7.8v1.8h-7.8zM622.1 167.6h7.8v1.8h-7.8zM623.6 169.1h7.8v1.8h-7.8zM626.6 170.6h6.3v1.8h-6.3zM629.6 172.1h4.8v1.8h-4.8zM631.1 173.6h6.3v1.8h-6.3zM634.1 175.1h4.8v1.8h-4.8zM635.6 176.6h4.8v1.8h-4.8zM638.6 178.1h3.3v1.8h-3.3zM640.1 179.6h3.3v1.8h-3.3zM643.1 181.1h1.8v1.8h-1.8zM644.6 182.6h3.3v1.8h-3.3zM652.1 182.6h1.8v1.8h-1.8zM646.1 184.1h3.3v1.8h-3.3zM650.6 184.1h3.3v1.8h-3.3zM647.6 185.6h1.8v1.8h-1.8zM652.1 185.6h1.8v1.8h-1.8zM653.6 187.1h1.8v1.8h-1.8zM655.1 188.6h1.8v1.8h-1.8zM656.6 190.1h3.3v1.8h-3.3zM658.1 191.6h3.3v1.8h-3.3zM659.6 193.1h4.8v1.8h-4.8zM661.1 194.6h4.8v1.8h-4.8zM664.1 196.1h4.8v1.8h-4.8zM665.6 197.6h6.3v1.8h-6.3zM667.1 199.1h6.3v1.8h-6.3zM668.6 200.6h7.8v1.8h-7.8zM670.1 202.1h6.3v1.8h-6.3zM673.1 203.6h3.3v1.8h-3.3zM674.6 205.1h1.8v1.8h-1.8z"/><path fill="#e0540d" d="M676.1 163.1h3.3v1.8h-3.3zM674.6 164.6h3.3v1.8h-3.3zM673.1 166.1h3.3v1.8h-3.3zM670.1 167.6h3.3v1.8h-3.3zM668.6 169.1h3.3v1.8h-3.3zM667.1 170.6h1.8v1.8h-1.8zM665.6 172.1h1.8v1.8h-1.8zM662.6 173.6h3.3v1.8h-3.3zM661.1 175.1h1.8v1.8h-1.8zM659.6 176.6h1.8v1.8h-1.8zM656.6 178.1h1.8v1.8h-1.8zM641.6 191.6h1.8v1.8h-1.8zM637.1 194.6h1.8v1.8h-1.8zM635.6 196.1h1.8v1.8h-1.8zM632.6 197.6h3.3v1.8h-3.3zM631.1 199.1h1.8v1.8h-1.8zM628.1 200.6h3.3v1.8h-3.3zM626.6 202.1h3.3v1.8h-3.3zM623.6 203.6h4.8v1.8h-4.8zM622.1 205.1h3.3v1.8h-3.3zM620.6 206.6h3.3v1.8h-3.3zM620.6 208.1h1.8v1.8h-1.8z"/><path fill="#e0420d" d="M677.6 164.6h4.8v1.8h-4.8zM676.1 166.1h3.3v1.8h-3.3zM673.1 167.6h4.8v1.8h-4.8zM671.6 169.1h3.3v1.8h-3.3zM668.6 170.6h3.3v1.8h-3.3zM667.1 172.1h3.3v1.8h-3.3zM665.6 173.6h1.8v1.8h-1.8zM662.6 175.1h1.8v1.8h-1.8zM661.1 176.6h1.8v1.8h-1.8zM658.1 178.1h1.8v1.8h-1.8zM655.1 179.6h1.8v1.8h-1.8zM640.1 191.6h1.8v1.8h-1.8zM638.6 193.1h1.8v1.8h-1.8zM635.6 194.6h1.8v1.8h-1.8zM632.6 196.1h3.3v1.8h-3.3zM629.6 197.6h3.3v1.8h-3.3zM628.1 199.1h3.3v1.8h-3.3zM625.1 200.6h3.3v1.8h-3.3zM623.6 202.1h3.3v1.8h-3.3zM620.6 203.6h3.3v1.8h-3.3zM619.1 205.1h3.3v1.8h-3.3zM619.1 206.6h1.8v1.8h-1.8z"/><path fill="#e0310d" d="M679.1 166.1h6.3v1.8h-6.3zM677.6 167.6h4.8v1.8h-4.8zM674.6 169.1h4.8v1.8h-4.8zM671.6 170.6h4.8v1.8h-4.8zM670.1 172.1h3.3v1.8h-3.3zM667.1 173.6h3.3v1.8h-3.3zM664.1 175.1h3.3v1.8h-3.3zM662.6 176.6h1.8v1.8h-1.8zM659.6 178.1h1.8v1.8h-1.8zM643.1 190.1h1.8v1.8h-1.8zM638.6 191.6h1.8v1.8h-1.8zM635.6 193.1h3.3v1.8h-3.3zM632.6 194.6h3.3v1.8h-3.3zM629.6 196.1h3.3v1.8h-3.3zM626.6 197.6h3.3v1.8h-3.3zM623.6 199.1h4.8v1.8h-4.8zM620.6 200.6h4.8v1.8h-4.8zM619.1 202.1h4.8v1.8h-4.8zM619.1 203.6h1.8v1.8h-1.8z"/><path fill="#0d31e0" d="M620.6 167.6h1.8v1.8h-1.8zM620.6 169.1h3.3v1.8h-3.3zM620.6 170.6h6.3v1.8h-6.3zM620.6 172.1h9.3v1.8h-9.3zM623.6 173.6h7.8v1.8h-7.8zM626.6 175.1h7.8v1.8h-7.8zM629.6 176.6h6.3v1.8h-6.3zM632.6 178.1h6.3v1.8h-6.3zM637.1 179.6h3.3v1.8h-3.3zM640.1 181.1h3.3v1.8h-3.3zM641.6 182.6h3.3v1.8h-3.3zM644.6 184.1h1.8v1.8h-1.8zM653.6 184.1h1.8v1.8h-1.8zM646.1 185.6h1.8v1.8h-1.8zM653.6 185.6h1.8v1.8h-1.8zM646.1 187.1h1.8v1.8h-1.8zM655.1 187.1h3.3v1.8h-3.3zM656.6 188.6h4.8v1.8h-4.8zM659.6 190.1h4.8v1.8h-4.8zM661.1 191.6h6.3v1.8h-6.3zM664.1 193.1h6.3v1.8h-6.3zM665.6 194.6h7.8v1.8h-7.8zM668.6 196.1h7.8v1.8h-7.8zM671.6 197.6h4.8v1.8h-4.8zM673.1 199.1h3.3v1.8h-3.3z"/><path fill="#e01f0d" d="M682.1 167.6h4.8v1.8h-4.8zM679.1 169.1h6.3v1.8h-6.3zM676.1 170.6h6.3v1.8h-6.3zM673.1 172.1h6.3v1.8h-6.3zM670.1 173.6h4.8v1.8h-4.8zM667.1 175.1h4.8v1.8h-4.8zM664.1 176.6h3.3v1.8h-3.3zM661.1 178.1h3.3v1.8h-3.3zM656.6 179.6h3.3v1.8h-3.3zM641.6 190.1h1.8v1.8h-1.8zM637.1 191.6h1.8v1.8h-1.8zM632.6 193.1h3.3v1.8h-3.3zM629.6 194.6h3.3v1.8h-3.3zM625.1 196.1h4.8v1.8h-4.8zM622.1 197.6h4.8v1.8h-4.8zM619.1 199.1h4.8v1.8h-4.8zM619.1 200.6h1.8v1.8h-1.8z"/><path fill="#e00d0d" d="M685.1 169.1h1.8v1.8h-1.8zM682.1 170.6h6.3v1.8h-6.3zM679.1 172.1h6.3v1.8h-6.3zM674.6 173.6h6.3v1.8h-6.3zM671.6 175.1h4.8v1.8h-4.8zM667.1 176.6h4.8v1.8h-4.8zM664.1 178.1h3.3v1.8h-3.3zM659.6 179.6h1.8v1.8h-1.8zM638.6 190.1h3.3v1.8h-3.3zM632.6 191.6h4.8v1.8h-4.8zM628.1 193.1h4.8v1.8h-4.8zM623.6 194.6h6.3v1.8h-6.3zM619.1 196.1h6.3v1.8h-6.3zM619.1 197.6h3.3v1.8h-3.3z"/><path fill="#0d1fe0" d="M619.1 172.1h1.8v1.8h-1.8zM619.1 173.6h4.8v1.8h-4.8zM619.1 175.1h7.8v1.8h-7.8zM619.1 176.6h10.8v1.8h-10.8zM623.6 178.1h9.3v1.8h-9.3zM629.6 179.6h7.8v1.8h-7.8zM634.1 181.1h6.3v1.8h-6.3zM638.6 182.6h3.3v1.8h-3.3zM653.6 182.6h1.8v1.8h-1.8zM641.6 184.1h3.3v1.8h-3.3zM644.6 185.6h1.8v1.8h-1.8zM655.1 185.6h3.3v1.8h-3.3zM658.1 187.1h3.3v1.8h-3.3zM661.1 188.6h4.8v1.8h-4.8zM664.1 190.1h6.3v1.8h-6.3zM667.1 191.6h9.3v1.8h-9.3zM670.1 193.1h9.3v1.8h-9.3zM673.1 194.6h3.3v1.8h-3.3z"/><path fill="#e00d1f" d="M685.1 172.1h3.3v1.8h-3.3zM680.6 173.6h7.8v1.8h-7.8zM676.1 175.1h7.8v1.8h-7.8zM671.6 176.6h6.3v1.8h-6.3zM667.1 178.1h4.8v1.8h-4.8zM661.1 179.6h4.8v1.8h-4.8zM634.1 190.1h4.8v1.8h-4.8zM628.1 191.6h4.8v1.8h-4.8zM622.1 193.1h6.3v1.8h-6.3zM620.6 194.6h3.3v1.8h-3.3z"/><path fill="#e00d31" d="M683.6 175.1h4.8v1.8h-4.8zM677.6 176.6h9.3v1.8h-9.3zM671.6 178.1h7.8v1.8h-7.8zM665.6 179.6h6.3v1.8h-6.3zM655.1 181.1h6.3v1.8h-6.3zM638.6 188.6h6.3v1.8h-6.3zM628.1 190.1h6.3v1.8h-6.3zM620.6 191.6h7.8v1.8h-7.8zM620.6 193.1h1.8v1.8h-1.8z"/><path fill="#e00d42" d="M686.6 176.6h1.8v1.8h-1.8zM679.1 178.1h9.3v1.8h-9.3zM671.6 179.6h10.8v1.8h-10.8zM661.1 181.1h9.3v1.8h-9.3zM631.1 188.6h7.8v1.8h-7.8zM622.1 190.1h6.3v1.8h-6.3z"/><path fill="#0d0de0" d="M619.1 178.1h4.8v1.8h-4.8zM620.6 179.6h9.3v1.8h-9.3zM628.1 181.1h6.3v1.8h-6.3zM634.1 182.6h4.8v1.8h-4.8zM638.6 184.1h3.3v1.8h-3.3zM655.1 184.1h1.8v1.8h-1.8zM643.1 185.6h1.8v1.8h-1.8zM658.1 185.6h3.3v1.8h-3.3zM644.6 187.1h1.8v1.8h-1.8zM661.1 187.1h4.8v1.8h-4.8zM665.6 188.6h6.3v1.8h-6.3zM670.1 190.1h9.3v1.8h-9.3zM676.1 191.6h6.3v1.8h-6.3z"/><path fill="#1f0de0" d="M619.1 179.6h1.8v1.8h-1.8zM620.6 181.1h7.8v1.8h-7.8zM629.6 182.6h4.8v1.8h-4.8zM637.1 184.1h1.8v1.8h-1.8zM656.6 184.1h1.8v1.8h-1.8zM641.6 185.6h1.8v1.8h-1.8zM661.1 185.6h1.8v1.8h-1.8zM665.6 187.1h4.8v1.8h-4.8zM671.6 188.6h7.8v1.8h-7.8zM679.1 190.1h4.8v1.8h-4.8z"/><path fill="#e00d54" d="M682.1 179.6h6.3v1.8h-6.3zM670.1 181.1h7.8v1.8h-7.8zM622.1 188.6h9.3v1.8h-9.3z"/><path fill="#bd0de0" d="M653.6 181.1h1.8v1.8h-1.8zM656.6 182.6h1.8v1.8h-1.8zM668.6 184.1h9.3v1.8h-9.3zM622.1 185.6h9.3v1.8h-9.3z"/><path fill="#e00d65" d="M677.6 181.1h4.8v1.8h-4.8z"/><path fill="#e00d77" d="M682.1 181.1h4.8v1.8h-4.8z"/><path fill="#e00d89" d="M686.6 181.1h1.8v1.8h-1.8z"/><path fill="#540de0" d="M620.6 182.6h1.8v1.8h-1.8zM655.1 182.6h1.8v1.8h-1.8zM631.1 184.1h1.8v1.8h-1.8zM665.6 185.6h3.3v1.8h-3.3zM677.6 187.1h6.3v1.8h-6.3z"/><path fill="#420de0" d="M622.1 182.6h4.8v1.8h-4.8zM632.6 184.1h3.3v1.8h-3.3zM658.1 184.1h1.8v1.8h-1.8zM640.1 185.6h1.8v1.8h-1.8zM664.1 185.6h1.8v1.8h-1.8zM673.1 187.1h4.8v1.8h-4.8zM683.6 188.6h1.8v1.8h-1.8z"/><path fill="#310de0" d="M626.6 182.6h3.3v1.8h-3.3zM635.6 184.1h1.8v1.8h-1.8zM662.6 185.6h1.8v1.8h-1.8zM670.1 187.1h3.3v1.8h-3.3zM679.1 188.6h4.8v1.8h-4.8z"/><path fill="#e00dbd" d="M658.1 182.6h1.8v1.8h-1.8zM679.1 182.6h7.8v1.8h-7.8zM640.1 187.1h1.8v1.8h-1.8z"/><path fill="#e00dac" d="M659.6 182.6h1.8v1.8h-1.8zM671.6 182.6h7.8v1.8h-7.8zM622.1 187.1h7.8v1.8h-7.8zM638.6 187.1h1.8v1.8h-1.8z"/><path fill="#e00d9a" d="M661.1 182.6h10.8v1.8h-10.8zM629.6 187.1h9.3v1.8h-9.3zM644.6 188.6h1.8v1.8h-1.8z"/><path fill="#890de0" d="M620.6 184.1h1.8v1.8h-1.8zM677.6 185.6h6.3v1.8h-6.3z"/><path fill="#770de0" d="M622.1 184.1h4.8v1.8h-4.8zM661.1 184.1h1.8v1.8h-1.8zM637.1 185.6h1.8v1.8h-1.8zM673.1 185.6h4.8v1.8h-4.8z"/><path fill="#650de0" d="M626.6 184.1h4.8v1.8h-4.8zM659.6 184.1h1.8v1.8h-1.8zM638.6 185.6h1.8v1.8h-1.8zM668.6 185.6h4.8v1.8h-4.8zM643.1 187.1h1.8v1.8h-1.8zM683.6 187.1h1.8v1.8h-1.8z"/><path fill="#9a0de0" d="M662.6 184.1h3.3v1.8h-3.3zM634.1 185.6h3.3v1.8h-3.3zM683.6 185.6h3.3v1.8h-3.3z"/><path fill="#ac0de0" d="M665.6 184.1h3.3v1.8h-3.3zM631.1 185.6h3.3v1.8h-3.3z"/><path fill="#cf0de0" d="M677.6 184.1h9.3v1.8h-9.3zM641.6 187.1h1.8v1.8h-1.8z"/></g></g><path d="M262 205V222.7H279" fill="none" stroke="#000" stroke-width="2.1"/><path d="M262 196.6L266.9 206.4H257.1Z"/><path d="M287.6 222.7L278 217.6V227.8Z"/><text x="257.9" y="193.7" text-anchor="start" font-style="italic">y</text><text x="290.2" y="228.9" text-anchor="start" font-style="italic">x</text><path d="M612.5 205V222.7H629.5" fill="none" stroke="#000" stroke-width="2.1"/><path d="M612.5 196.6L617.4 206.4H607.6Z"/><path d="M638.1 222.7L628.5 217.6V227.8Z"/><text x="608.4" y="193.7" text-anchor="start" font-style="italic">y</text><text x="640.7" y="228.9" text-anchor="start" font-style="italic">x</text></svg></body></html>
